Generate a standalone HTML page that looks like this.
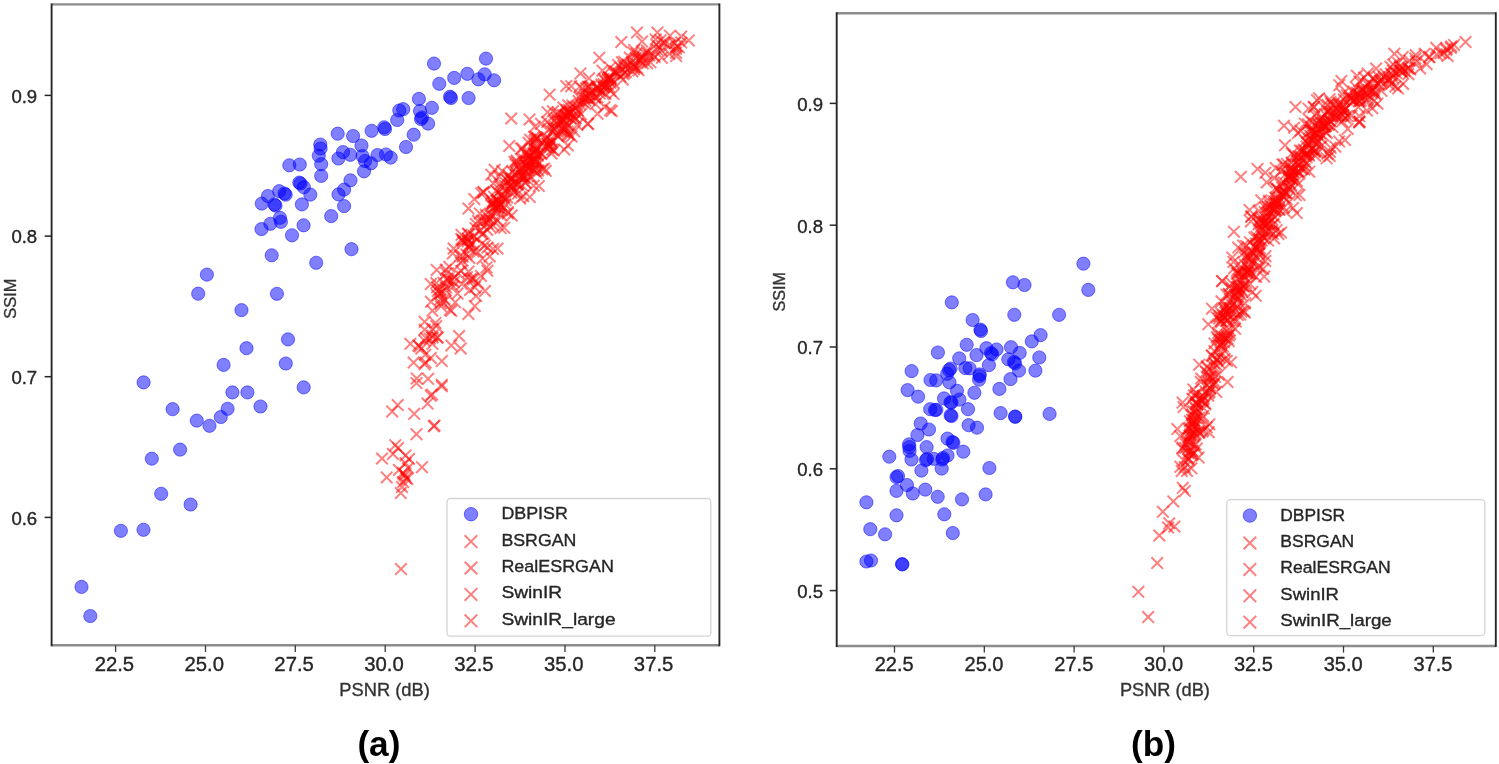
<!DOCTYPE html>
<html><head><meta charset="utf-8"><title>PSNR vs SSIM</title>
<style>html,body{margin:0;padding:0;background:#fff;}svg{display:block;}text{font-family:"Liberation Sans",sans-serif;}</style>
</head><body>
<svg width="1499" height="764" viewBox="0 0 1499 764">
<defs><filter id="bl" x="0" y="0" width="100%" height="100%" filterUnits="userSpaceOnUse"><feGaussianBlur stdDeviation="0.45"/></filter></defs>
<rect width="1499" height="764" fill="#fff"/>
<g filter="url(#bl)">
<defs><clipPath id="cl"><rect x="51.6" y="4.4" width="667.8" height="640.9"/></clipPath><clipPath id="cr"><rect x="836.7" y="13.3" width="659.1" height="632.7"/></clipPath></defs>
<g clip-path="url(#cl)">
<g fill="#0000ff" fill-opacity="0.5" stroke="#0000ff" stroke-opacity="0.5" stroke-width="1">
<circle cx="434.0" cy="63.6" r="6.6"/>
<circle cx="486.0" cy="58.6" r="6.6"/>
<circle cx="454.2" cy="77.9" r="6.6"/>
<circle cx="467.3" cy="73.8" r="6.6"/>
<circle cx="478.4" cy="79.3" r="6.6"/>
<circle cx="484.7" cy="74.3" r="6.6"/>
<circle cx="494.1" cy="80.3" r="6.6"/>
<circle cx="439.3" cy="83.8" r="6.6"/>
<circle cx="450.0" cy="96.7" r="6.6"/>
<circle cx="451.0" cy="98.0" r="6.6"/>
<circle cx="468.6" cy="98.0" r="6.6"/>
<circle cx="418.9" cy="98.9" r="6.6"/>
<circle cx="431.9" cy="107.8" r="6.6"/>
<circle cx="403.2" cy="109.2" r="6.6"/>
<circle cx="399.3" cy="110.5" r="6.6"/>
<circle cx="420.0" cy="111.0" r="6.6"/>
<circle cx="422.0" cy="117.5" r="6.6"/>
<circle cx="421.0" cy="119.0" r="6.6"/>
<circle cx="428.1" cy="123.6" r="6.6"/>
<circle cx="397.2" cy="120.0" r="6.6"/>
<circle cx="384.2" cy="127.3" r="6.6"/>
<circle cx="385.0" cy="129.0" r="6.6"/>
<circle cx="371.6" cy="130.8" r="6.6"/>
<circle cx="413.7" cy="134.7" r="6.6"/>
<circle cx="406.0" cy="147.0" r="6.6"/>
<circle cx="337.7" cy="133.7" r="6.6"/>
<circle cx="353.1" cy="136.0" r="6.6"/>
<circle cx="320.3" cy="144.5" r="6.6"/>
<circle cx="320.6" cy="148.5" r="6.6"/>
<circle cx="318.8" cy="155.7" r="6.6"/>
<circle cx="321.2" cy="164.2" r="6.6"/>
<circle cx="321.2" cy="175.9" r="6.6"/>
<circle cx="361.5" cy="145.5" r="6.6"/>
<circle cx="343.0" cy="152.1" r="6.6"/>
<circle cx="338.4" cy="158.5" r="6.6"/>
<circle cx="350.3" cy="154.8" r="6.6"/>
<circle cx="362.5" cy="156.0" r="6.6"/>
<circle cx="365.0" cy="161.0" r="6.6"/>
<circle cx="371.0" cy="163.3" r="6.6"/>
<circle cx="364.0" cy="171.3" r="6.6"/>
<circle cx="377.5" cy="155.0" r="6.6"/>
<circle cx="386.0" cy="154.5" r="6.6"/>
<circle cx="390.7" cy="157.6" r="6.6"/>
<circle cx="289.3" cy="165.3" r="6.6"/>
<circle cx="299.8" cy="164.5" r="6.6"/>
<circle cx="299.3" cy="182.6" r="6.6"/>
<circle cx="300.5" cy="183.5" r="6.6"/>
<circle cx="303.8" cy="187.2" r="6.6"/>
<circle cx="310.3" cy="194.6" r="6.6"/>
<circle cx="301.9" cy="204.4" r="6.6"/>
<circle cx="350.5" cy="180.3" r="6.6"/>
<circle cx="344.1" cy="189.6" r="6.6"/>
<circle cx="338.5" cy="194.4" r="6.6"/>
<circle cx="344.1" cy="206.1" r="6.6"/>
<circle cx="331.2" cy="216.1" r="6.6"/>
<circle cx="279.2" cy="191.2" r="6.6"/>
<circle cx="285.7" cy="194.7" r="6.6"/>
<circle cx="284.5" cy="193.5" r="6.6"/>
<circle cx="267.9" cy="196.0" r="6.6"/>
<circle cx="261.8" cy="203.6" r="6.6"/>
<circle cx="275.5" cy="205.6" r="6.6"/>
<circle cx="274.5" cy="204.5" r="6.6"/>
<circle cx="280.0" cy="217.8" r="6.6"/>
<circle cx="280.9" cy="221.8" r="6.6"/>
<circle cx="270.4" cy="223.8" r="6.6"/>
<circle cx="261.5" cy="229.1" r="6.6"/>
<circle cx="303.6" cy="225.3" r="6.6"/>
<circle cx="292.0" cy="235.3" r="6.6"/>
<circle cx="271.7" cy="255.3" r="6.6"/>
<circle cx="316.2" cy="262.8" r="6.6"/>
<circle cx="351.5" cy="249.2" r="6.6"/>
<circle cx="206.9" cy="274.6" r="6.6"/>
<circle cx="198.2" cy="293.7" r="6.6"/>
<circle cx="276.9" cy="293.8" r="6.6"/>
<circle cx="241.5" cy="310.1" r="6.6"/>
<circle cx="288.0" cy="339.4" r="6.6"/>
<circle cx="246.5" cy="348.2" r="6.6"/>
<circle cx="223.6" cy="364.9" r="6.6"/>
<circle cx="285.8" cy="363.5" r="6.6"/>
<circle cx="303.7" cy="387.4" r="6.6"/>
<circle cx="232.4" cy="392.4" r="6.6"/>
<circle cx="247.4" cy="392.4" r="6.6"/>
<circle cx="260.5" cy="406.5" r="6.6"/>
<circle cx="227.6" cy="408.8" r="6.6"/>
<circle cx="220.8" cy="417.0" r="6.6"/>
<circle cx="196.8" cy="420.6" r="6.6"/>
<circle cx="209.5" cy="425.8" r="6.6"/>
<circle cx="172.6" cy="409.2" r="6.6"/>
<circle cx="143.6" cy="382.4" r="6.6"/>
<circle cx="180.1" cy="449.6" r="6.6"/>
<circle cx="151.8" cy="458.7" r="6.6"/>
<circle cx="161.2" cy="493.8" r="6.6"/>
<circle cx="190.6" cy="504.5" r="6.6"/>
<circle cx="120.9" cy="530.8" r="6.6"/>
<circle cx="143.5" cy="529.8" r="6.6"/>
<circle cx="81.5" cy="586.9" r="6.6"/>
<circle cx="90.3" cy="616.0" r="6.6"/>
</g>
<g stroke="#ff0000" stroke-opacity="0.5" stroke-width="2" fill="none">
<path d="M395.2 563.3L406.8 574.9M395.2 574.9L406.8 563.3"/>
<path d="M376.2 452.7L387.8 464.3M376.2 464.3L387.8 452.7"/>
<path d="M380.9 471.6L392.5 483.2M380.9 483.2L392.5 471.6"/>
<path d="M398.2 468.4L409.8 480.0M398.2 480.0L409.8 468.4"/>
<path d="M397.2 467.2L408.8 478.8M397.2 478.8L408.8 467.2"/>
<path d="M399.2 469.7L410.8 481.3M399.2 481.3L410.8 469.7"/>
<path d="M401.3 473.2L412.9 484.8M401.3 484.8L412.9 473.2"/>
<path d="M395.0 487.3L406.6 498.9M395.0 498.9L406.6 487.3"/>
<path d="M397.4 476.2L409.0 487.8M397.4 487.8L409.0 476.2"/>
<path d="M399.7 449.6L411.3 461.2M399.7 461.2L411.3 449.6"/>
<path d="M399.7 457.4L411.3 469.0M399.7 469.0L411.3 457.4"/>
<path d="M416.2 461.4L427.8 473.0M416.2 473.0L427.8 461.4"/>
<path d="M389.5 439.4L401.1 451.0M389.5 451.0L401.1 439.4"/>
<path d="M392.2 442.2L403.8 453.8M392.2 453.8L403.8 442.2"/>
<path d="M393.2 464.2L404.8 475.8M393.2 475.8L404.8 464.2"/>
<path d="M402.2 462.2L413.8 473.8M402.2 473.8L413.8 462.2"/>
<path d="M396.2 481.2L407.8 492.8M396.2 492.8L407.8 481.2"/>
<path d="M403.2 453.2L414.8 464.8M403.2 464.8L414.8 453.2"/>
<path d="M387.2 448.2L398.8 459.8M387.2 459.8L398.8 448.2"/>
<path d="M400.2 472.2L411.8 483.8M400.2 483.8L411.8 472.2"/>
<path d="M410.7 377.3L422.3 388.9M410.7 388.9L422.3 377.3"/>
<path d="M435.9 380.5L447.5 392.1M435.9 392.1L447.5 380.5"/>
<path d="M424.9 389.9L436.5 401.5M424.9 401.5L436.5 389.9"/>
<path d="M426.2 388.7L437.8 400.3M426.2 400.3L437.8 388.7"/>
<path d="M421.7 397.8L433.3 409.4M421.7 409.4L433.3 397.8"/>
<path d="M391.9 399.3L403.5 410.9M391.9 410.9L403.5 399.3"/>
<path d="M386.4 405.6L398.0 417.2M386.4 417.2L398.0 405.6"/>
<path d="M408.4 408.0L420.0 419.6M408.4 419.6L420.0 408.0"/>
<path d="M428.0 420.5L439.6 432.1M428.0 432.1L439.6 420.5"/>
<path d="M428.7 419.7L440.3 431.3M428.7 431.3L440.3 419.7"/>
<path d="M410.7 428.4L422.3 440.0M410.7 440.0L422.3 428.4"/>
<path d="M410.9 372.6L422.5 384.2M410.9 384.2L422.5 372.6"/>
<path d="M436.0 378.9L447.6 390.5M436.0 390.5L447.6 378.9"/>
<path d="M404.6 338.0L416.2 349.6M404.6 349.6L416.2 338.0"/>
<path d="M412.5 339.6L424.1 351.2M412.5 351.2L424.1 339.6"/>
<path d="M413.7 340.7L425.3 352.3M413.7 352.3L425.3 340.7"/>
<path d="M415.6 342.7L427.2 354.3M415.6 354.3L427.2 342.7"/>
<path d="M431.3 331.7L442.9 343.3M431.3 343.3L442.9 331.7"/>
<path d="M453.3 330.2L464.9 341.8M453.3 341.8L464.9 330.2"/>
<path d="M454.9 342.7L466.5 354.3M454.9 354.3L466.5 342.7"/>
<path d="M426.6 338.0L438.2 349.6M426.6 349.6L438.2 338.0"/>
<path d="M425.0 352.2L436.6 363.8M425.0 363.8L436.6 352.2"/>
<path d="M436.0 355.3L447.6 366.9M436.0 366.9L447.6 355.3"/>
<path d="M418.8 358.4L430.4 370.0M418.8 370.0L430.4 358.4"/>
<path d="M445.5 339.6L457.1 351.2M445.5 351.2L457.1 339.6"/>
<path d="M418.8 323.9L430.4 335.5M418.8 335.5L430.4 323.9"/>
<path d="M418.8 316.0L430.4 327.6M418.8 327.6L430.4 316.0"/>
<path d="M425.0 278.3L436.6 289.9M425.0 289.9L436.6 278.3"/>
<path d="M431.3 281.5L442.9 293.1M431.3 293.1L442.9 281.5"/>
<path d="M442.3 273.6L453.9 285.2M442.3 285.2L453.9 273.6"/>
<path d="M440.7 267.3L452.3 278.9M440.7 278.9L452.3 267.3"/>
<path d="M451.7 287.8L463.3 299.4M451.7 299.4L463.3 287.8"/>
<path d="M467.4 273.6L479.0 285.2M467.4 285.2L479.0 273.6"/>
<path d="M469.0 281.5L480.6 293.1M469.0 293.1L480.6 281.5"/>
<path d="M462.7 265.8L474.3 277.4M462.7 277.4L474.3 265.8"/>
<path d="M481.6 265.0L493.2 276.6M481.6 276.6L493.2 265.0"/>
<path d="M472.2 277.2L483.8 288.8M472.2 288.8L483.8 277.2"/>
<path d="M464.2 284.2L475.8 295.8M464.2 295.8L475.8 284.2"/>
<path d="M475.2 270.2L486.8 281.8M475.2 281.8L486.8 270.2"/>
<path d="M479.2 285.2L490.8 296.8M479.2 296.8L490.8 285.2"/>
<path d="M470.2 290.2L481.8 301.8M470.2 301.8L481.8 290.2"/>
<path d="M431.3 289.3L442.9 300.9M431.3 300.9L442.9 289.3"/>
<path d="M426.6 305.0L438.2 316.6M426.6 316.6L438.2 305.0"/>
<path d="M445.5 305.0L457.1 316.6M445.5 316.6L457.1 305.0"/>
<path d="M469.0 300.3L480.6 311.9M469.0 311.9L480.6 300.3"/>
<path d="M462.7 308.2L474.3 319.8M462.7 319.8L474.3 308.2"/>
<path d="M462.7 202.7L474.3 214.3M462.7 214.3L474.3 202.7"/>
<path d="M469.7 222.3L481.3 233.9M469.7 233.9L481.3 222.3"/>
<path d="M483.9 220.7L495.5 232.3M483.9 232.3L495.5 220.7"/>
<path d="M455.6 233.3L467.2 244.9M455.6 244.9L467.2 233.3"/>
<path d="M456.7 234.2L468.3 245.8M456.7 245.8L468.3 234.2"/>
<path d="M447.8 242.7L459.4 254.3M447.8 254.3L459.4 242.7"/>
<path d="M465.0 238.0L476.6 249.6M465.0 249.6L476.6 238.0"/>
<path d="M476.0 238.0L487.6 249.6M476.0 249.6L487.6 238.0"/>
<path d="M491.7 242.7L503.3 254.3M491.7 254.3L503.3 242.7"/>
<path d="M483.9 250.6L495.5 262.2M483.9 262.2L495.5 250.6"/>
<path d="M463.5 252.2L475.1 263.8M463.5 263.8L475.1 252.2"/>
<path d="M480.7 261.6L492.3 273.2M480.7 273.2L492.3 261.6"/>
<path d="M466.6 272.6L478.2 284.2M466.6 284.2L478.2 272.6"/>
<path d="M441.5 272.6L453.1 284.2M441.5 284.2L453.1 272.6"/>
<path d="M430.5 277.3L442.1 288.9M430.5 288.9L442.1 277.3"/>
<path d="M487.0 195.6L498.6 207.2M487.0 207.2L498.6 195.6"/>
<path d="M499.6 198.8L511.2 210.4M499.6 210.4L511.2 198.8"/>
<path d="M505.9 209.7L517.5 221.3M505.9 221.3L517.5 209.7"/>
<path d="M477.6 186.2L489.2 197.8M477.6 197.8L489.2 186.2"/>
<path d="M485.5 168.9L497.1 180.5M485.5 180.5L497.1 168.9"/>
<path d="M493.3 170.5L504.9 182.1M493.3 182.1L504.9 170.5"/>
<path d="M507.4 176.8L519.0 188.4M507.4 188.4L519.0 176.8"/>
<path d="M518.4 172.1L530.0 183.7M518.4 183.7L530.0 172.1"/>
<path d="M531.0 167.3L542.6 178.9M531.0 178.9L542.6 167.3"/>
<path d="M527.9 179.9L539.5 191.5M527.9 191.5L539.5 179.9"/>
<path d="M512.2 187.8L523.8 199.4M512.2 199.4L523.8 187.8"/>
<path d="M503.5 140.2L515.1 151.8M503.5 151.8L515.1 140.2"/>
<path d="M510.9 154.8L522.5 166.4M510.9 166.4L522.5 154.8"/>
<path d="M488.9 164.0L500.5 175.6M488.9 175.6L500.5 164.0"/>
<path d="M536.3 163.5L547.9 175.1M536.3 175.1L547.9 163.5"/>
<path d="M514.4 192.8L526.0 204.4M514.4 204.4L526.0 192.8"/>
<path d="M510.7 156.2L522.3 167.8M510.7 167.8L522.3 156.2"/>
<path d="M562.0 139.7L573.6 151.3M562.0 151.3L573.6 139.7"/>
<path d="M505.4 112.7L517.0 124.3M505.4 124.3L517.0 112.7"/>
<path d="M523.7 113.6L535.3 125.2M523.7 125.2L535.3 113.6"/>
<path d="M543.8 88.9L555.4 100.5M543.8 100.5L555.4 88.9"/>
<path d="M582.3 118.2L593.9 129.8M582.3 129.8L593.9 118.2"/>
<path d="M604.3 104.4L615.9 116.0M604.3 116.0L615.9 104.4"/>
<path d="M560.5 80.2L572.1 91.8M560.5 91.8L572.1 80.2"/>
<path d="M574.6 67.6L586.2 79.2M574.6 79.2L586.2 67.6"/>
<path d="M581.7 117.9L593.3 129.5M581.7 129.5L593.3 117.9"/>
<path d="M563.6 128.9L575.2 140.5M563.6 140.5L575.2 128.9"/>
<path d="M599.7 88.0L611.3 99.6M599.7 99.6L611.3 88.0"/>
<path d="M606.0 105.3L617.6 116.9M606.0 116.9L617.6 105.3"/>
<path d="M617.0 73.9L628.6 85.5M617.0 85.5L628.6 73.9"/>
<path d="M593.5 51.9L605.1 63.5M593.5 63.5L605.1 51.9"/>
<path d="M615.5 36.2L627.1 47.8M615.5 47.8L627.1 36.2"/>
<path d="M631.2 26.8L642.8 38.4M631.2 38.4L642.8 26.8"/>
<path d="M651.6 26.8L663.2 38.4M651.6 38.4L663.2 26.8"/>
<path d="M664.2 29.9L675.8 41.5M664.2 41.5L675.8 29.9"/>
<path d="M683.0 34.6L694.6 46.2M683.0 46.2L694.6 34.6"/>
<path d="M670.4 50.3L682.0 61.9M670.4 61.9L682.0 50.3"/>
<path d="M632.7 64.5L644.3 76.1M632.7 76.1L644.3 64.5"/>
<path d="M422.3 373.0L433.9 384.6M422.3 384.6L433.9 373.0"/>
<path d="M407.8 356.8L419.4 368.4M407.8 368.4L419.4 356.8"/>
<path d="M419.7 356.7L431.3 368.3M419.7 368.3L431.3 356.7"/>
<path d="M419.4 349.0L431.0 360.6M419.4 360.6L431.0 349.0"/>
<path d="M444.1 304.1L455.7 315.7M444.1 315.7L455.7 304.1"/>
<path d="M426.7 329.9L438.3 341.5M426.7 341.5L438.3 329.9"/>
<path d="M439.4 295.0L451.0 306.6M439.4 306.6L451.0 295.0"/>
<path d="M438.4 293.1L450.0 304.7M438.4 304.7L450.0 293.1"/>
<path d="M423.9 332.9L435.5 344.5M423.9 344.5L435.5 332.9"/>
<path d="M430.5 320.4L442.1 332.0M430.5 332.0L442.1 320.4"/>
<path d="M426.8 331.7L438.4 343.3M426.8 343.3L438.4 331.7"/>
<path d="M431.9 331.7L443.5 343.3M431.9 343.3L443.5 331.7"/>
<path d="M425.2 296.0L436.8 307.6M425.2 307.6L436.8 296.0"/>
<path d="M435.4 287.0L447.0 298.6M435.4 298.6L447.0 287.0"/>
<path d="M418.6 334.9L430.2 346.5M418.6 346.5L430.2 334.9"/>
<path d="M449.4 296.5L461.0 308.1M449.4 308.1L461.0 296.5"/>
<path d="M434.9 297.7L446.5 309.3M434.9 309.3L446.5 297.7"/>
<path d="M434.8 293.5L446.4 305.1M434.8 305.1L446.4 293.5"/>
<path d="M429.7 317.1L441.3 328.7M429.7 328.7L441.3 317.1"/>
<path d="M435.1 300.5L446.7 312.1M435.1 312.1L446.7 300.5"/>
<path d="M420.2 332.4L431.8 344.0M420.2 344.0L431.8 332.4"/>
<path d="M426.8 323.3L438.4 334.9M426.8 334.9L438.4 323.3"/>
<path d="M452.5 267.6L464.1 279.2M452.5 279.2L464.1 267.6"/>
<path d="M439.9 263.9L451.5 275.5M439.9 275.5L451.5 263.9"/>
<path d="M434.0 283.6L445.6 295.2M434.0 295.2L445.6 283.6"/>
<path d="M430.9 264.1L442.5 275.7M430.9 275.7L442.5 264.1"/>
<path d="M464.7 273.5L476.3 285.1M464.7 285.1L476.3 273.5"/>
<path d="M456.9 250.6L468.5 262.2M456.9 262.2L468.5 250.6"/>
<path d="M461.1 271.4L472.7 283.0M461.1 283.0L472.7 271.4"/>
<path d="M442.4 275.3L454.0 286.9M442.4 286.9L454.0 275.3"/>
<path d="M476.7 252.6L488.3 264.2M476.7 264.2L488.3 252.6"/>
<path d="M460.6 248.7L472.2 260.3M460.6 260.3L472.2 248.7"/>
<path d="M447.0 247.6L458.6 259.2M447.0 259.2L458.6 247.6"/>
<path d="M440.0 284.8L451.6 296.4M440.0 296.4L451.6 284.8"/>
<path d="M455.3 265.1L466.9 276.7M455.3 276.7L466.9 265.1"/>
<path d="M456.1 278.3L467.7 289.9M456.1 289.9L467.7 278.3"/>
<path d="M443.5 261.0L455.1 272.6M443.5 272.6L455.1 261.0"/>
<path d="M431.9 285.1L443.5 296.7M431.9 296.7L443.5 285.1"/>
<path d="M437.7 277.0L449.3 288.6M437.7 288.6L449.3 277.0"/>
<path d="M454.2 250.2L465.8 261.8M454.2 261.8L465.8 250.2"/>
<path d="M447.3 280.7L458.9 292.3M447.3 292.3L458.9 280.7"/>
<path d="M434.3 287.9L445.9 299.5M434.3 299.5L445.9 287.9"/>
<path d="M456.8 254.8L468.4 266.4M456.8 266.4L468.4 254.8"/>
<path d="M448.1 276.1L459.7 287.7M448.1 287.7L459.7 276.1"/>
<path d="M440.3 281.7L451.9 293.3M440.3 293.3L451.9 281.7"/>
<path d="M455.1 257.1L466.7 268.7M455.1 268.7L466.7 257.1"/>
<path d="M445.6 274.7L457.2 286.3M445.6 286.3L457.2 274.7"/>
<path d="M448.4 271.4L460.0 283.0M448.4 283.0L460.0 271.4"/>
<path d="M471.9 246.4L483.5 258.0M471.9 258.0L483.5 246.4"/>
<path d="M470.1 218.1L481.7 229.7M470.1 229.7L481.7 218.1"/>
<path d="M467.7 245.6L479.3 257.2M467.7 257.2L479.3 245.6"/>
<path d="M466.7 238.2L478.3 249.8M466.7 249.8L478.3 238.2"/>
<path d="M472.2 215.2L483.8 226.8M472.2 226.8L483.8 215.2"/>
<path d="M478.1 215.1L489.7 226.7M478.1 226.7L489.7 215.1"/>
<path d="M462.3 233.0L473.9 244.6M462.3 244.6L473.9 233.0"/>
<path d="M462.8 228.3L474.4 239.9M462.8 239.9L474.4 228.3"/>
<path d="M457.8 236.8L469.4 248.4M457.8 248.4L469.4 236.8"/>
<path d="M487.2 243.2L498.8 254.8M487.2 254.8L498.8 243.2"/>
<path d="M481.7 241.7L493.3 253.3M481.7 253.3L493.3 241.7"/>
<path d="M461.6 233.8L473.2 245.4M461.6 245.4L473.2 233.8"/>
<path d="M498.4 221.9L510.0 233.5M498.4 233.5L510.0 221.9"/>
<path d="M477.8 227.7L489.4 239.3M477.8 239.3L489.4 227.7"/>
<path d="M494.9 222.3L506.5 233.9M494.9 233.9L506.5 222.3"/>
<path d="M468.0 230.1L479.6 241.7M468.0 241.7L479.6 230.1"/>
<path d="M462.0 235.5L473.6 247.1M462.0 247.1L473.6 235.5"/>
<path d="M457.1 235.1L468.7 246.7M457.1 246.7L468.7 235.1"/>
<path d="M462.1 227.9L473.7 239.5M462.1 239.5L473.7 227.9"/>
<path d="M481.0 214.3L492.6 225.9M481.0 225.9L492.6 214.3"/>
<path d="M455.7 229.0L467.3 240.6M455.7 240.6L467.3 229.0"/>
<path d="M479.1 239.6L490.7 251.2M479.1 251.2L490.7 239.6"/>
<path d="M481.5 224.2L493.1 235.8M481.5 235.8L493.1 224.2"/>
<path d="M474.0 207.6L485.6 219.2M474.0 219.2L485.6 207.6"/>
<path d="M476.2 228.3L487.8 239.9M476.2 239.9L487.8 228.3"/>
<path d="M463.1 242.2L474.7 253.8M463.1 253.8L474.7 242.2"/>
<path d="M484.0 213.0L495.6 224.6M484.0 224.6L495.6 213.0"/>
<path d="M487.1 219.4L498.7 231.0M487.1 231.0L498.7 219.4"/>
<path d="M467.9 230.7L479.5 242.3M467.9 242.3L479.5 230.7"/>
<path d="M491.9 214.5L503.5 226.1M491.9 226.1L503.5 214.5"/>
<path d="M462.5 240.0L474.1 251.6M462.5 251.6L474.1 240.0"/>
<path d="M464.0 240.0L475.6 251.6M464.0 251.6L475.6 240.0"/>
<path d="M481.5 217.3L493.1 228.9M481.5 228.9L493.1 217.3"/>
<path d="M475.9 215.2L487.5 226.8M475.9 226.8L487.5 215.2"/>
<path d="M474.5 225.2L486.1 236.8M474.5 236.8L486.1 225.2"/>
<path d="M483.6 213.8L495.2 225.4M483.6 225.4L495.2 213.8"/>
<path d="M480.0 208.9L491.6 220.5M480.0 220.5L491.6 208.9"/>
<path d="M505.6 183.1L517.2 194.7M505.6 194.7L517.2 183.1"/>
<path d="M505.4 187.0L517.0 198.6M505.4 198.6L517.0 187.0"/>
<path d="M486.9 210.3L498.5 221.9M486.9 221.9L498.5 210.3"/>
<path d="M504.4 173.0L516.0 184.6M504.4 184.6L516.0 173.0"/>
<path d="M492.8 201.4L504.4 213.0M492.8 213.0L504.4 201.4"/>
<path d="M495.0 209.1L506.6 220.7M495.0 220.7L506.6 209.1"/>
<path d="M502.0 174.9L513.6 186.5M502.0 186.5L513.6 174.9"/>
<path d="M487.0 197.0L498.6 208.6M487.0 208.6L498.6 197.0"/>
<path d="M484.6 209.8L496.2 221.4M484.6 221.4L496.2 209.8"/>
<path d="M505.4 172.6L517.0 184.2M505.4 184.2L517.0 172.6"/>
<path d="M502.1 207.6L513.7 219.2M502.1 219.2L513.7 207.6"/>
<path d="M524.0 191.3L535.6 202.9M524.0 202.9L535.6 191.3"/>
<path d="M485.6 198.2L497.2 209.8M485.6 209.8L497.2 198.2"/>
<path d="M496.4 165.3L508.0 176.9M496.4 176.9L508.0 165.3"/>
<path d="M487.3 197.5L498.9 209.1M487.3 209.1L498.9 197.5"/>
<path d="M491.5 199.2L503.1 210.8M491.5 210.8L503.1 199.2"/>
<path d="M512.2 177.5L523.8 189.1M512.2 189.1L523.8 177.5"/>
<path d="M487.6 177.7L499.2 189.3M487.6 189.3L499.2 177.7"/>
<path d="M475.4 187.6L487.0 199.2M475.4 199.2L487.0 187.6"/>
<path d="M502.1 206.2L513.7 217.8M502.1 217.8L513.7 206.2"/>
<path d="M477.8 186.7L489.4 198.3M477.8 198.3L489.4 186.7"/>
<path d="M492.3 186.7L503.9 198.3M492.3 198.3L503.9 186.7"/>
<path d="M485.6 199.5L497.2 211.1M485.6 211.1L497.2 199.5"/>
<path d="M501.4 191.7L513.0 203.3M501.4 203.3L513.0 191.7"/>
<path d="M493.6 199.1L505.2 210.7M493.6 210.7L505.2 199.1"/>
<path d="M499.8 194.2L511.4 205.8M499.8 205.8L511.4 194.2"/>
<path d="M499.3 180.1L510.9 191.7M499.3 191.7L510.9 180.1"/>
<path d="M516.0 179.3L527.6 190.9M516.0 190.9L527.6 179.3"/>
<path d="M517.5 190.4L529.1 202.0M517.5 202.0L529.1 190.4"/>
<path d="M468.5 193.3L480.1 204.9M468.5 204.9L480.1 193.3"/>
<path d="M504.9 178.5L516.5 190.1M504.9 190.1L516.5 178.5"/>
<path d="M511.3 178.4L522.9 190.0M511.3 190.0L522.9 178.4"/>
<path d="M505.9 180.2L517.5 191.8M505.9 191.8L517.5 180.2"/>
<path d="M504.3 180.7L515.9 192.3M504.3 192.3L515.9 180.7"/>
<path d="M488.2 190.9L499.8 202.5M488.2 202.5L499.8 190.9"/>
<path d="M499.6 184.5L511.2 196.1M499.6 196.1L511.2 184.5"/>
<path d="M506.4 172.6L518.0 184.2M506.4 184.2L518.0 172.6"/>
<path d="M490.4 184.8L502.0 196.4M490.4 196.4L502.0 184.8"/>
<path d="M491.7 194.5L503.3 206.1M491.7 206.1L503.3 194.5"/>
<path d="M496.1 204.5L507.7 216.1M496.1 216.1L507.7 204.5"/>
<path d="M498.3 191.3L509.9 202.9M498.3 202.9L509.9 191.3"/>
<path d="M493.8 198.5L505.4 210.1M493.8 210.1L505.4 198.5"/>
<path d="M506.2 181.6L517.8 193.2M506.2 193.2L517.8 181.6"/>
<path d="M490.9 195.2L502.5 206.8M490.9 206.8L502.5 195.2"/>
<path d="M495.6 189.4L507.2 201.0M495.6 201.0L507.2 189.4"/>
<path d="M495.4 181.8L507.0 193.4M495.4 193.4L507.0 181.8"/>
<path d="M492.4 202.5L504.0 214.1M492.4 214.1L504.0 202.5"/>
<path d="M496.9 192.7L508.5 204.3M496.9 204.3L508.5 192.7"/>
<path d="M511.9 179.0L523.5 190.6M511.9 190.6L523.5 179.0"/>
<path d="M489.3 200.4L500.9 212.0M489.3 212.0L500.9 200.4"/>
<path d="M496.9 189.4L508.5 201.0M496.9 201.0L508.5 189.4"/>
<path d="M488.6 204.8L500.2 216.4M488.6 216.4L500.2 204.8"/>
<path d="M494.2 178.0L505.8 189.6M494.2 189.6L505.8 178.0"/>
<path d="M491.8 194.5L503.4 206.1M491.8 206.1L503.4 194.5"/>
<path d="M500.4 173.6L512.0 185.2M500.4 185.2L512.0 173.6"/>
<path d="M505.4 174.8L517.0 186.4M505.4 186.4L517.0 174.8"/>
<path d="M488.7 200.6L500.3 212.2M488.7 212.2L500.3 200.6"/>
<path d="M509.3 186.0L520.9 197.6M509.3 197.6L520.9 186.0"/>
<path d="M494.9 198.3L506.5 209.9M494.9 209.9L506.5 198.3"/>
<path d="M489.3 201.8L500.9 213.4M489.3 213.4L500.9 201.8"/>
<path d="M531.5 143.6L543.1 155.2M531.5 155.2L543.1 143.6"/>
<path d="M533.0 180.2L544.6 191.8M533.0 191.8L544.6 180.2"/>
<path d="M522.8 137.0L534.4 148.6M522.8 148.6L534.4 137.0"/>
<path d="M527.4 147.5L539.0 159.1M527.4 159.1L539.0 147.5"/>
<path d="M529.7 133.5L541.3 145.1M529.7 145.1L541.3 133.5"/>
<path d="M528.4 142.9L540.0 154.5M528.4 154.5L540.0 142.9"/>
<path d="M516.0 170.2L527.6 181.8M516.0 181.8L527.6 170.2"/>
<path d="M545.7 147.7L557.3 159.3M545.7 159.3L557.3 147.7"/>
<path d="M519.6 177.0L531.2 188.6M519.6 188.6L531.2 177.0"/>
<path d="M515.8 166.5L527.4 178.1M515.8 178.1L527.4 166.5"/>
<path d="M520.4 159.7L532.0 171.3M520.4 171.3L532.0 159.7"/>
<path d="M515.3 142.8L526.9 154.4M515.3 154.4L526.9 142.8"/>
<path d="M508.5 156.1L520.1 167.7M508.5 167.7L520.1 156.1"/>
<path d="M512.6 159.6L524.2 171.2M512.6 171.2L524.2 159.6"/>
<path d="M530.6 142.9L542.2 154.5M530.6 154.5L542.2 142.9"/>
<path d="M530.4 131.4L542.0 143.0M530.4 143.0L542.0 131.4"/>
<path d="M529.8 144.8L541.4 156.4M529.8 156.4L541.4 144.8"/>
<path d="M520.7 159.2L532.3 170.8M520.7 170.8L532.3 159.2"/>
<path d="M517.1 172.5L528.7 184.1M517.1 184.1L528.7 172.5"/>
<path d="M540.0 165.0L551.6 176.6M540.0 176.6L551.6 165.0"/>
<path d="M510.3 166.9L521.9 178.5M510.3 178.5L521.9 166.9"/>
<path d="M522.4 151.5L534.0 163.1M522.4 163.1L534.0 151.5"/>
<path d="M532.5 164.8L544.1 176.4M532.5 176.4L544.1 164.8"/>
<path d="M515.7 153.5L527.3 165.1M515.7 165.1L527.3 153.5"/>
<path d="M535.3 148.1L546.9 159.7M535.3 159.7L546.9 148.1"/>
<path d="M518.5 153.9L530.1 165.5M518.5 165.5L530.1 153.9"/>
<path d="M502.5 169.4L514.1 181.0M502.5 181.0L514.1 169.4"/>
<path d="M538.3 162.7L549.9 174.3M538.3 174.3L549.9 162.7"/>
<path d="M528.5 131.0L540.1 142.6M528.5 142.6L540.1 131.0"/>
<path d="M524.4 134.0L536.0 145.6M524.4 145.6L536.0 134.0"/>
<path d="M524.7 170.7L536.3 182.3M524.7 182.3L536.3 170.7"/>
<path d="M519.1 147.6L530.7 159.2M519.1 159.2L530.7 147.6"/>
<path d="M519.2 159.6L530.8 171.2M519.2 171.2L530.8 159.6"/>
<path d="M528.8 165.2L540.4 176.8M528.8 176.8L540.4 165.2"/>
<path d="M528.7 135.0L540.3 146.6M528.7 146.6L540.3 135.0"/>
<path d="M524.1 156.2L535.7 167.8M524.1 167.8L535.7 156.2"/>
<path d="M516.4 142.6L528.0 154.2M516.4 154.2L528.0 142.6"/>
<path d="M523.0 146.4L534.6 158.0M523.0 158.0L534.6 146.4"/>
<path d="M528.8 138.2L540.4 149.8M528.8 149.8L540.4 138.2"/>
<path d="M530.4 144.1L542.0 155.7M530.4 155.7L542.0 144.1"/>
<path d="M529.3 146.5L540.9 158.1M529.3 158.1L540.9 146.5"/>
<path d="M529.5 158.6L541.1 170.2M529.5 170.2L541.1 158.6"/>
<path d="M527.7 164.1L539.3 175.7M527.7 175.7L539.3 164.1"/>
<path d="M524.0 156.7L535.6 168.3M524.0 168.3L535.6 156.7"/>
<path d="M523.8 149.4L535.4 161.0M523.8 161.0L535.4 149.4"/>
<path d="M529.5 161.3L541.1 172.9M529.5 172.9L541.1 161.3"/>
<path d="M528.3 148.2L539.9 159.8M528.3 159.8L539.9 148.2"/>
<path d="M516.9 169.3L528.5 180.9M516.9 180.9L528.5 169.3"/>
<path d="M519.7 176.9L531.3 188.5M519.7 188.5L531.3 176.9"/>
<path d="M522.5 152.6L534.1 164.2M522.5 164.2L534.1 152.6"/>
<path d="M517.9 170.6L529.5 182.2M517.9 182.2L529.5 170.6"/>
<path d="M532.0 149.9L543.6 161.5M532.0 161.5L543.6 149.9"/>
<path d="M513.6 163.6L525.2 175.2M513.6 175.2L525.2 163.6"/>
<path d="M515.8 170.2L527.4 181.8M515.8 181.8L527.4 170.2"/>
<path d="M509.9 158.9L521.5 170.5M509.9 170.5L521.5 158.9"/>
<path d="M531.9 148.7L543.5 160.3M531.9 160.3L543.5 148.7"/>
<path d="M526.6 152.3L538.2 163.9M526.6 163.9L538.2 152.3"/>
<path d="M521.8 160.4L533.4 172.0M521.8 172.0L533.4 160.4"/>
<path d="M520.7 147.8L532.3 159.4M520.7 159.4L532.3 147.8"/>
<path d="M531.4 132.9L543.0 144.5M531.4 144.5L543.0 132.9"/>
<path d="M529.6 156.1L541.2 167.7M529.6 167.7L541.2 156.1"/>
<path d="M526.8 156.2L538.4 167.8M526.8 167.8L538.4 156.2"/>
<path d="M522.2 162.1L533.8 173.7M522.2 173.7L533.8 162.1"/>
<path d="M514.7 165.4L526.3 177.0M514.7 177.0L526.3 165.4"/>
<path d="M506.4 165.9L518.0 177.5M506.4 177.5L518.0 165.9"/>
<path d="M524.7 160.0L536.3 171.6M524.7 171.6L536.3 160.0"/>
<path d="M529.5 153.3L541.1 164.9M529.5 164.9L541.1 153.3"/>
<path d="M522.1 170.5L533.7 182.1M522.1 182.1L533.7 170.5"/>
<path d="M539.7 141.2L551.3 152.8M539.7 152.8L551.3 141.2"/>
<path d="M520.9 162.5L532.5 174.1M520.9 174.1L532.5 162.5"/>
<path d="M510.2 169.8L521.8 181.4M510.2 181.4L521.8 169.8"/>
<path d="M521.7 156.3L533.3 167.9M521.7 167.9L533.3 156.3"/>
<path d="M535.3 146.9L546.9 158.5M535.3 158.5L546.9 146.9"/>
<path d="M527.5 155.6L539.1 167.2M527.5 167.2L539.1 155.6"/>
<path d="M533.7 157.0L545.3 168.6M533.7 168.6L545.3 157.0"/>
<path d="M546.3 143.7L557.9 155.3M546.3 155.3L557.9 143.7"/>
<path d="M520.4 165.0L532.0 176.6M520.4 176.6L532.0 165.0"/>
<path d="M530.8 155.5L542.4 167.1M530.8 167.1L542.4 155.5"/>
<path d="M557.3 109.2L568.9 120.8M557.3 120.8L568.9 109.2"/>
<path d="M571.2 108.3L582.8 119.9M571.2 119.9L582.8 108.3"/>
<path d="M541.0 137.8L552.6 149.4M541.0 149.4L552.6 137.8"/>
<path d="M529.0 120.9L540.6 132.5M529.0 132.5L540.6 120.9"/>
<path d="M542.8 142.2L554.4 153.8M542.8 153.8L554.4 142.2"/>
<path d="M569.3 114.0L580.9 125.6M569.3 125.6L580.9 114.0"/>
<path d="M542.5 138.7L554.1 150.3M542.5 150.3L554.1 138.7"/>
<path d="M558.8 114.2L570.4 125.8M558.8 125.8L570.4 114.2"/>
<path d="M547.1 105.5L558.7 117.1M547.1 117.1L558.7 105.5"/>
<path d="M568.4 125.5L580.0 137.1M568.4 137.1L580.0 125.5"/>
<path d="M539.9 133.8L551.5 145.4M539.9 145.4L551.5 133.8"/>
<path d="M550.9 112.1L562.5 123.7M550.9 123.7L562.5 112.1"/>
<path d="M562.4 128.2L574.0 139.8M562.4 139.8L574.0 128.2"/>
<path d="M546.2 121.3L557.8 132.9M546.2 132.9L557.8 121.3"/>
<path d="M555.1 125.2L566.7 136.8M555.1 136.8L566.7 125.2"/>
<path d="M560.7 111.6L572.3 123.2M560.7 123.2L572.3 111.6"/>
<path d="M535.2 118.0L546.8 129.6M535.2 129.6L546.8 118.0"/>
<path d="M558.5 143.8L570.1 155.4M558.5 155.4L570.1 143.8"/>
<path d="M531.9 132.2L543.5 143.8M531.9 143.8L543.5 132.2"/>
<path d="M557.6 101.8L569.2 113.4M557.6 113.4L569.2 101.8"/>
<path d="M542.0 138.8L553.6 150.4M542.0 150.4L553.6 138.8"/>
<path d="M558.5 126.6L570.1 138.2M558.5 138.2L570.1 126.6"/>
<path d="M569.9 112.5L581.5 124.1M569.9 124.1L581.5 112.5"/>
<path d="M565.7 130.7L577.3 142.3M565.7 142.3L577.3 130.7"/>
<path d="M547.8 144.7L559.4 156.3M547.8 156.3L559.4 144.7"/>
<path d="M560.4 109.9L572.0 121.5M560.4 121.5L572.0 109.9"/>
<path d="M568.0 111.2L579.6 122.8M568.0 122.8L579.6 111.2"/>
<path d="M543.1 123.5L554.7 135.1M543.1 135.1L554.7 123.5"/>
<path d="M551.4 129.7L563.0 141.3M551.4 141.3L563.0 129.7"/>
<path d="M571.4 119.3L583.0 130.9M571.4 130.9L583.0 119.3"/>
<path d="M555.9 113.0L567.5 124.6M555.9 124.6L567.5 113.0"/>
<path d="M566.6 99.8L578.2 111.4M566.6 111.4L578.2 99.8"/>
<path d="M541.7 106.4L553.3 118.0M541.7 118.0L553.3 106.4"/>
<path d="M562.7 107.9L574.3 119.5M562.7 119.5L574.3 107.9"/>
<path d="M558.2 124.8L569.8 136.4M558.2 136.4L569.8 124.8"/>
<path d="M548.2 123.7L559.8 135.3M548.2 135.3L559.8 123.7"/>
<path d="M557.8 115.3L569.4 126.9M557.8 126.9L569.4 115.3"/>
<path d="M546.8 125.8L558.4 137.4M546.8 137.4L558.4 125.8"/>
<path d="M556.8 122.6L568.4 134.2M556.8 134.2L568.4 122.6"/>
<path d="M546.1 136.5L557.7 148.1M546.1 148.1L557.7 136.5"/>
<path d="M540.8 133.8L552.4 145.4M540.8 145.4L552.4 133.8"/>
<path d="M561.8 125.7L573.4 137.3M561.8 137.3L573.4 125.7"/>
<path d="M560.6 104.3L572.2 115.9M560.6 115.9L572.2 104.3"/>
<path d="M567.5 105.5L579.1 117.1M567.5 117.1L579.1 105.5"/>
<path d="M555.9 114.9L567.5 126.5M555.9 126.5L567.5 114.9"/>
<path d="M560.7 109.3L572.3 120.9M560.7 120.9L572.3 109.3"/>
<path d="M562.4 99.5L574.0 111.1M562.4 111.1L574.0 99.5"/>
<path d="M541.5 116.2L553.1 127.8M541.5 127.8L553.1 116.2"/>
<path d="M545.6 135.9L557.2 147.5M545.6 147.5L557.2 135.9"/>
<path d="M551.9 109.0L563.5 120.6M551.9 120.6L563.5 109.0"/>
<path d="M549.1 120.8L560.7 132.4M549.1 132.4L560.7 120.8"/>
<path d="M543.9 141.2L555.5 152.8M543.9 152.8L555.5 141.2"/>
<path d="M544.5 138.2L556.1 149.8M544.5 149.8L556.1 138.2"/>
<path d="M555.7 116.0L567.3 127.6M555.7 127.6L567.3 116.0"/>
<path d="M564.8 107.1L576.4 118.7M564.8 118.7L576.4 107.1"/>
<path d="M544.6 133.6L556.2 145.2M544.6 145.2L556.2 133.6"/>
<path d="M564.6 106.7L576.2 118.3M564.6 118.3L576.2 106.7"/>
<path d="M552.5 130.7L564.1 142.3M552.5 142.3L564.1 130.7"/>
<path d="M562.9 104.0L574.5 115.6M562.9 115.6L574.5 104.0"/>
<path d="M552.1 106.7L563.7 118.3M552.1 118.3L563.7 106.7"/>
<path d="M559.4 109.5L571.0 121.1M559.4 121.1L571.0 109.5"/>
<path d="M569.7 101.4L581.3 113.0M569.7 113.0L581.3 101.4"/>
<path d="M564.7 112.6L576.3 124.2M564.7 124.2L576.3 112.6"/>
<path d="M548.4 115.3L560.0 126.9M548.4 126.9L560.0 115.3"/>
<path d="M559.8 122.4L571.4 134.0M559.8 134.0L571.4 122.4"/>
<path d="M562.1 106.6L573.7 118.2M562.1 118.2L573.7 106.6"/>
<path d="M559.3 115.6L570.9 127.2M559.3 127.2L570.9 115.6"/>
<path d="M540.9 131.9L552.5 143.5M540.9 143.5L552.5 131.9"/>
<path d="M575.2 108.6L586.8 120.2M575.2 120.2L586.8 108.6"/>
<path d="M552.3 114.6L563.9 126.2M552.3 126.2L563.9 114.6"/>
<path d="M563.6 106.4L575.2 118.0M563.6 118.0L575.2 106.4"/>
<path d="M548.8 123.0L560.4 134.6M548.8 134.6L560.4 123.0"/>
<path d="M552.4 118.4L564.0 130.0M552.4 130.0L564.0 118.4"/>
<path d="M558.2 120.1L569.8 131.7M558.2 131.7L569.8 120.1"/>
<path d="M602.3 73.2L613.9 84.8M602.3 84.8L613.9 73.2"/>
<path d="M585.3 80.6L596.9 92.2M585.3 92.2L596.9 80.6"/>
<path d="M603.3 81.4L614.9 93.0M603.3 93.0L614.9 81.4"/>
<path d="M607.8 88.3L619.4 99.9M607.8 99.9L619.4 88.3"/>
<path d="M580.4 82.5L592.0 94.1M580.4 94.1L592.0 82.5"/>
<path d="M581.0 92.2L592.6 103.8M581.0 103.8L592.6 92.2"/>
<path d="M576.5 82.6L588.1 94.2M576.5 94.2L588.1 82.6"/>
<path d="M578.9 92.0L590.5 103.6M578.9 103.6L590.5 92.0"/>
<path d="M579.5 94.7L591.1 106.3M579.5 106.3L591.1 94.7"/>
<path d="M583.3 80.9L594.9 92.5M583.3 92.5L594.9 80.9"/>
<path d="M598.8 101.3L610.4 112.9M598.8 112.9L610.4 101.3"/>
<path d="M583.2 72.5L594.8 84.1M583.2 84.1L594.8 72.5"/>
<path d="M596.7 86.8L608.3 98.4M596.7 98.4L608.3 86.8"/>
<path d="M599.6 75.4L611.2 87.0M599.6 87.0L611.2 75.4"/>
<path d="M598.0 73.2L609.6 84.8M598.0 84.8L609.6 73.2"/>
<path d="M571.3 100.1L582.9 111.7M571.3 111.7L582.9 100.1"/>
<path d="M589.7 98.3L601.3 109.9M589.7 109.9L601.3 98.3"/>
<path d="M604.6 85.0L616.2 96.6M604.6 96.6L616.2 85.0"/>
<path d="M591.6 91.6L603.2 103.2M591.6 103.2L603.2 91.6"/>
<path d="M591.7 108.0L603.3 119.6M591.7 119.6L603.3 108.0"/>
<path d="M582.2 81.0L593.8 92.6M582.2 92.6L593.8 81.0"/>
<path d="M593.9 87.8L605.5 99.4M593.9 99.4L605.5 87.8"/>
<path d="M589.0 91.6L600.6 103.2M589.0 103.2L600.6 91.6"/>
<path d="M598.1 81.4L609.7 93.0M598.1 93.0L609.7 81.4"/>
<path d="M574.0 80.8L585.6 92.4M574.0 92.4L585.6 80.8"/>
<path d="M565.4 80.4L577.0 92.0M565.4 92.0L577.0 80.4"/>
<path d="M595.6 78.6L607.2 90.2M595.6 90.2L607.2 78.6"/>
<path d="M583.5 93.1L595.1 104.7M583.5 104.7L595.1 93.1"/>
<path d="M583.1 88.4L594.7 100.0M583.1 100.0L594.7 88.4"/>
<path d="M602.5 72.6L614.1 84.2M602.5 84.2L614.1 72.6"/>
<path d="M589.3 91.2L600.9 102.8M589.3 102.8L600.9 91.2"/>
<path d="M591.3 80.4L602.9 92.0M591.3 92.0L602.9 80.4"/>
<path d="M604.7 76.9L616.3 88.5M604.7 88.5L616.3 76.9"/>
<path d="M601.8 78.4L613.4 90.0M601.8 90.0L613.4 78.4"/>
<path d="M584.1 88.7L595.7 100.3M584.1 100.3L595.7 88.7"/>
<path d="M597.9 78.4L609.5 90.0M597.9 90.0L609.5 78.4"/>
<path d="M583.8 94.1L595.4 105.7M583.8 105.7L595.4 94.1"/>
<path d="M573.6 91.5L585.2 103.1M573.6 103.1L585.2 91.5"/>
<path d="M585.8 85.4L597.4 97.0M585.8 97.0L597.4 85.4"/>
<path d="M572.8 95.2L584.4 106.8M572.8 106.8L584.4 95.2"/>
<path d="M578.3 96.8L589.9 108.4M578.3 108.4L589.9 96.8"/>
<path d="M579.3 88.8L590.9 100.4M579.3 100.4L590.9 88.8"/>
<path d="M576.8 96.7L588.4 108.3M576.8 108.3L588.4 96.7"/>
<path d="M590.7 82.2L602.3 93.8M590.7 93.8L602.3 82.2"/>
<path d="M592.2 82.3L603.8 93.9M592.2 93.9L603.8 82.3"/>
<path d="M597.7 81.5L609.3 93.1M597.7 93.1L609.3 81.5"/>
<path d="M577.5 92.2L589.1 103.8M577.5 103.8L589.1 92.2"/>
<path d="M573.9 98.1L585.5 109.7M573.9 109.7L585.5 98.1"/>
<path d="M593.7 83.6L605.3 95.2M593.7 95.2L605.3 83.6"/>
<path d="M592.3 83.2L603.9 94.8M592.3 94.8L603.9 83.2"/>
<path d="M599.8 79.6L611.4 91.2M599.8 91.2L611.4 79.6"/>
<path d="M572.1 104.6L583.7 116.2M572.1 116.2L583.7 104.6"/>
<path d="M604.9 73.4L616.5 85.0M604.9 85.0L616.5 73.4"/>
<path d="M631.4 62.4L643.0 74.0M631.4 74.0L643.0 62.4"/>
<path d="M619.4 61.8L631.0 73.4M619.4 73.4L631.0 61.8"/>
<path d="M617.4 68.4L629.0 80.0M617.4 80.0L629.0 68.4"/>
<path d="M628.2 61.7L639.8 73.3M628.2 73.3L639.8 61.7"/>
<path d="M604.1 72.2L615.7 83.8M604.1 83.8L615.7 72.2"/>
<path d="M608.7 65.5L620.3 77.1M608.7 77.1L620.3 65.5"/>
<path d="M607.7 76.8L619.3 88.4M607.7 88.4L619.3 76.8"/>
<path d="M628.1 63.5L639.7 75.1M628.1 75.1L639.7 63.5"/>
<path d="M626.0 56.5L637.6 68.1M626.0 68.1L637.6 56.5"/>
<path d="M641.3 57.5L652.9 69.1M641.3 69.1L652.9 57.5"/>
<path d="M627.5 46.8L639.1 58.4M627.5 58.4L639.1 46.8"/>
<path d="M628.3 44.1L639.9 55.7M628.3 55.7L639.9 44.1"/>
<path d="M624.0 51.8L635.6 63.4M624.0 63.4L635.6 51.8"/>
<path d="M618.2 55.9L629.8 67.5M618.2 67.5L629.8 55.9"/>
<path d="M630.7 47.9L642.3 59.5M630.7 59.5L642.3 47.9"/>
<path d="M616.1 56.5L627.7 68.1M616.1 68.1L627.7 56.5"/>
<path d="M604.3 61.9L615.9 73.5M604.3 73.5L615.9 61.9"/>
<path d="M614.5 70.6L626.1 82.2M614.5 82.2L626.1 70.6"/>
<path d="M617.7 60.3L629.3 71.9M617.7 71.9L629.3 60.3"/>
<path d="M627.6 59.3L639.2 70.9M627.6 70.9L639.2 59.3"/>
<path d="M626.6 65.6L638.2 77.2M626.6 77.2L638.2 65.6"/>
<path d="M596.6 64.9L608.2 76.5M596.6 76.5L608.2 64.9"/>
<path d="M628.5 61.3L640.1 72.9M628.5 72.9L640.1 61.3"/>
<path d="M637.0 57.7L648.6 69.3M637.0 69.3L648.6 57.7"/>
<path d="M635.6 53.7L647.2 65.3M635.6 65.3L647.2 53.7"/>
<path d="M607.8 67.2L619.4 78.8M607.8 78.8L619.4 67.2"/>
<path d="M615.8 63.1L627.4 74.7M615.8 74.7L627.4 63.1"/>
<path d="M613.1 67.6L624.7 79.2M613.1 79.2L624.7 67.6"/>
<path d="M633.1 52.9L644.7 64.5M633.1 64.5L644.7 52.9"/>
<path d="M636.6 50.7L648.2 62.3M636.6 62.3L648.2 50.7"/>
<path d="M612.4 59.3L624.0 70.9M612.4 70.9L624.0 59.3"/>
<path d="M629.9 52.4L641.5 64.0M629.9 64.0L641.5 52.4"/>
<path d="M620.0 66.1L631.6 77.7M620.0 77.7L631.6 66.1"/>
<path d="M603.2 71.7L614.8 83.3M603.2 83.3L614.8 71.7"/>
<path d="M602.0 74.3L613.6 85.9M602.0 85.9L613.6 74.3"/>
<path d="M605.0 72.1L616.6 83.7M605.0 83.7L616.6 72.1"/>
<path d="M621.7 59.0L633.3 70.6M621.7 70.6L633.3 59.0"/>
<path d="M637.4 52.8L649.0 64.4M637.4 64.4L649.0 52.8"/>
<path d="M633.5 54.3L645.1 65.9M633.5 65.9L645.1 54.3"/>
<path d="M609.9 66.0L621.5 77.6M609.9 77.6L621.5 66.0"/>
<path d="M618.7 67.1L630.3 78.7M618.7 78.7L630.3 67.1"/>
<path d="M656.0 52.0L667.6 63.6M656.0 63.6L667.6 52.0"/>
<path d="M649.9 33.6L661.5 45.2M649.9 45.2L661.5 33.6"/>
<path d="M636.2 35.7L647.8 47.3M636.2 47.3L647.8 35.7"/>
<path d="M652.6 40.9L664.2 52.5M652.6 52.5L664.2 40.9"/>
<path d="M670.2 46.9L681.8 58.5M670.2 58.5L681.8 46.9"/>
<path d="M663.7 48.0L675.3 59.6M663.7 59.6L675.3 48.0"/>
<path d="M647.6 49.4L659.2 61.0M647.6 61.0L659.2 49.4"/>
<path d="M658.3 36.8L669.9 48.4M658.3 48.4L669.9 36.8"/>
<path d="M644.7 56.5L656.3 68.1M644.7 68.1L656.3 56.5"/>
<path d="M655.6 44.8L667.2 56.4M655.6 56.4L667.2 44.8"/>
<path d="M641.2 44.7L652.8 56.3M641.2 56.3L652.8 44.7"/>
<path d="M675.4 30.7L687.0 42.3M675.4 42.3L687.0 30.7"/>
<path d="M654.6 34.5L666.2 46.1M654.6 46.1L666.2 34.5"/>
<path d="M668.9 37.2L680.5 48.8M668.9 48.8L680.5 37.2"/>
<path d="M659.3 37.7L670.9 49.3M659.3 49.3L670.9 37.7"/>
<path d="M675.4 36.8L687.0 48.4M675.4 48.4L687.0 36.8"/>
<path d="M641.2 46.9L652.8 58.5M641.2 58.5L652.8 46.9"/>
<path d="M643.5 49.8L655.1 61.4M643.5 61.4L655.1 49.8"/>
<path d="M670.8 40.7L682.4 52.3M670.8 52.3L682.4 40.7"/>
<path d="M648.9 51.2L660.5 62.8M648.9 62.8L660.5 51.2"/>
<path d="M639.2 48.1L650.8 59.7M639.2 59.7L650.8 48.1"/>
<path d="M663.9 39.2L675.5 50.8M663.9 50.8L675.5 39.2"/>
<path d="M650.5 38.6L662.1 50.2M650.5 50.2L662.1 38.6"/>
<path d="M672.9 41.4L684.5 53.0M672.9 53.0L684.5 41.4"/>
<path d="M651.3 43.8L662.9 55.4M651.3 55.4L662.9 43.8"/>
<path d="M670.1 42.9L681.7 54.5M670.1 54.5L681.7 42.9"/>
</g></g>
<g clip-path="url(#cr)">
<g fill="#0000ff" fill-opacity="0.5" stroke="#0000ff" stroke-opacity="0.5" stroke-width="1">
<circle cx="1083.4" cy="263.7" r="6.6"/>
<circle cx="1088.3" cy="289.9" r="6.6"/>
<circle cx="1012.9" cy="282.3" r="6.6"/>
<circle cx="1024.5" cy="285.0" r="6.6"/>
<circle cx="951.8" cy="302.4" r="6.6"/>
<circle cx="1014.3" cy="314.8" r="6.6"/>
<circle cx="1059.1" cy="314.8" r="6.6"/>
<circle cx="972.6" cy="320.0" r="6.6"/>
<circle cx="980.4" cy="329.6" r="6.6"/>
<circle cx="981.0" cy="331.0" r="6.6"/>
<circle cx="1040.6" cy="335.1" r="6.6"/>
<circle cx="1031.8" cy="341.4" r="6.6"/>
<circle cx="966.7" cy="344.8" r="6.6"/>
<circle cx="986.4" cy="348.2" r="6.6"/>
<circle cx="996.5" cy="349.5" r="6.6"/>
<circle cx="992.2" cy="354.4" r="6.6"/>
<circle cx="991.0" cy="353.0" r="6.6"/>
<circle cx="1011.0" cy="347.2" r="6.6"/>
<circle cx="1019.7" cy="352.9" r="6.6"/>
<circle cx="1008.3" cy="359.3" r="6.6"/>
<circle cx="1039.3" cy="357.5" r="6.6"/>
<circle cx="937.9" cy="352.5" r="6.6"/>
<circle cx="976.5" cy="355.1" r="6.6"/>
<circle cx="959.2" cy="358.4" r="6.6"/>
<circle cx="988.9" cy="365.2" r="6.6"/>
<circle cx="965.4" cy="368.0" r="6.6"/>
<circle cx="969.6" cy="368.3" r="6.6"/>
<circle cx="950.6" cy="368.6" r="6.6"/>
<circle cx="949.0" cy="370.0" r="6.6"/>
<circle cx="947.2" cy="373.8" r="6.6"/>
<circle cx="979.7" cy="374.4" r="6.6"/>
<circle cx="979.5" cy="376.0" r="6.6"/>
<circle cx="979.1" cy="379.7" r="6.6"/>
<circle cx="1015.1" cy="363.4" r="6.6"/>
<circle cx="1014.0" cy="362.0" r="6.6"/>
<circle cx="1019.0" cy="370.6" r="6.6"/>
<circle cx="1035.4" cy="370.6" r="6.6"/>
<circle cx="1010.5" cy="379.1" r="6.6"/>
<circle cx="999.4" cy="388.9" r="6.6"/>
<circle cx="936.2" cy="380.4" r="6.6"/>
<circle cx="930.5" cy="380.0" r="6.6"/>
<circle cx="949.5" cy="382.4" r="6.6"/>
<circle cx="957.0" cy="390.8" r="6.6"/>
<circle cx="974.4" cy="392.8" r="6.6"/>
<circle cx="944.0" cy="398.4" r="6.6"/>
<circle cx="959.4" cy="399.6" r="6.6"/>
<circle cx="950.5" cy="402.3" r="6.6"/>
<circle cx="951.5" cy="402.5" r="6.6"/>
<circle cx="968.0" cy="409.2" r="6.6"/>
<circle cx="936.4" cy="409.8" r="6.6"/>
<circle cx="935.0" cy="410.0" r="6.6"/>
<circle cx="930.2" cy="409.2" r="6.6"/>
<circle cx="950.6" cy="415.3" r="6.6"/>
<circle cx="951.5" cy="416.0" r="6.6"/>
<circle cx="1000.6" cy="413.1" r="6.6"/>
<circle cx="1015.1" cy="416.5" r="6.6"/>
<circle cx="1015.3" cy="416.8" r="6.6"/>
<circle cx="1049.6" cy="413.9" r="6.6"/>
<circle cx="968.6" cy="425.2" r="6.6"/>
<circle cx="977.0" cy="427.7" r="6.6"/>
<circle cx="911.6" cy="371.1" r="6.6"/>
<circle cx="907.6" cy="390.1" r="6.6"/>
<circle cx="918.1" cy="396.7" r="6.6"/>
<circle cx="920.7" cy="423.5" r="6.6"/>
<circle cx="929.0" cy="429.5" r="6.6"/>
<circle cx="917.4" cy="435.0" r="6.6"/>
<circle cx="909.0" cy="444.4" r="6.6"/>
<circle cx="909.3" cy="447.0" r="6.6"/>
<circle cx="909.6" cy="450.9" r="6.6"/>
<circle cx="911.5" cy="459.5" r="6.6"/>
<circle cx="926.6" cy="447.1" r="6.6"/>
<circle cx="947.5" cy="438.6" r="6.6"/>
<circle cx="953.4" cy="442.8" r="6.6"/>
<circle cx="952.5" cy="442.0" r="6.6"/>
<circle cx="963.3" cy="451.7" r="6.6"/>
<circle cx="947.5" cy="455.5" r="6.6"/>
<circle cx="942.3" cy="459.5" r="6.6"/>
<circle cx="943.0" cy="458.0" r="6.6"/>
<circle cx="925.9" cy="460.1" r="6.6"/>
<circle cx="927.0" cy="459.0" r="6.6"/>
<circle cx="933.8" cy="458.8" r="6.6"/>
<circle cx="921.4" cy="470.6" r="6.6"/>
<circle cx="941.7" cy="468.6" r="6.6"/>
<circle cx="889.3" cy="456.7" r="6.6"/>
<circle cx="896.5" cy="477.1" r="6.6"/>
<circle cx="898.0" cy="476.0" r="6.6"/>
<circle cx="907.0" cy="485.0" r="6.6"/>
<circle cx="896.5" cy="490.9" r="6.6"/>
<circle cx="912.8" cy="493.5" r="6.6"/>
<circle cx="925.3" cy="489.6" r="6.6"/>
<circle cx="937.7" cy="496.8" r="6.6"/>
<circle cx="962.0" cy="499.4" r="6.6"/>
<circle cx="985.6" cy="494.4" r="6.6"/>
<circle cx="989.4" cy="468.0" r="6.6"/>
<circle cx="866.4" cy="502.3" r="6.6"/>
<circle cx="896.5" cy="515.3" r="6.6"/>
<circle cx="944.3" cy="514.3" r="6.6"/>
<circle cx="870.3" cy="529.2" r="6.6"/>
<circle cx="885.1" cy="534.3" r="6.6"/>
<circle cx="952.8" cy="533.0" r="6.6"/>
<circle cx="866.4" cy="561.5" r="6.6"/>
<circle cx="871.0" cy="560.5" r="6.6"/>
<circle cx="902.1" cy="564.2" r="6.6"/>
<circle cx="902.3" cy="564.4" r="6.6"/>
</g>
<g stroke="#ff0000" stroke-opacity="0.5" stroke-width="2" fill="none">
<path d="M1459.7 36.2L1471.3 47.8M1459.7 47.8L1471.3 36.2"/>
<path d="M1132.6 586.0L1144.2 597.6M1132.6 597.6L1144.2 586.0"/>
<path d="M1142.4 611.3L1154.0 622.9M1142.4 622.9L1154.0 611.3"/>
<path d="M1151.4 557.3L1163.0 568.9M1151.4 568.9L1163.0 557.3"/>
<path d="M1153.5 529.7L1165.1 541.3M1153.5 541.3L1165.1 529.7"/>
<path d="M1162.3 521.7L1173.9 533.3M1162.3 533.3L1173.9 521.7"/>
<path d="M1168.6 520.7L1180.2 532.3M1168.6 532.3L1180.2 520.7"/>
<path d="M1163.4 517.5L1175.0 529.1M1163.4 529.1L1175.0 517.5"/>
<path d="M1157.1 506.0L1168.7 517.6M1157.1 517.6L1168.7 506.0"/>
<path d="M1167.5 495.6L1179.1 507.2M1167.5 507.2L1179.1 495.6"/>
<path d="M1177.0 482.0L1188.6 493.6M1177.0 493.6L1188.6 482.0"/>
<path d="M1179.1 485.1L1190.7 496.7M1179.1 496.7L1190.7 485.1"/>
<path d="M1175.9 465.2L1187.5 476.8M1175.9 476.8L1187.5 465.2"/>
<path d="M1181.2 465.2L1192.8 476.8M1181.2 476.8L1192.8 465.2"/>
<path d="M1174.6 461.0L1186.2 472.6M1174.6 472.6L1186.2 461.0"/>
<path d="M1185.6 462.5L1197.2 474.1M1185.6 474.1L1197.2 462.5"/>
<path d="M1221.7 376.2L1233.3 387.8M1221.7 387.8L1233.3 376.2"/>
<path d="M1202.9 426.4L1214.5 438.0M1202.9 438.0L1214.5 426.4"/>
<path d="M1171.5 423.3L1183.1 434.9M1171.5 434.9L1183.1 423.3"/>
<path d="M1177.7 401.3L1189.3 412.9M1177.7 412.9L1189.3 401.3"/>
<path d="M1196.6 390.3L1208.2 401.9M1196.6 401.9L1208.2 390.3"/>
<path d="M1195.0 376.2L1206.6 387.8M1195.0 387.8L1206.6 376.2"/>
<path d="M1193.4 358.9L1205.0 370.5M1193.4 370.5L1205.0 358.9"/>
<path d="M1206.2 302.9L1217.8 314.5M1206.2 314.5L1217.8 302.9"/>
<path d="M1258.4 270.8L1270.0 282.4M1258.4 282.4L1270.0 270.8"/>
<path d="M1239.2 306.6L1250.8 318.2M1239.2 318.2L1250.8 306.6"/>
<path d="M1202.5 318.5L1214.1 330.1M1202.5 330.1L1214.1 318.5"/>
<path d="M1216.3 275.4L1227.9 287.0M1216.3 287.0L1227.9 275.4"/>
<path d="M1228.2 262.6L1239.8 274.2M1228.2 274.2L1239.8 262.6"/>
<path d="M1235.0 171.0L1246.6 182.6M1235.0 182.6L1246.6 171.0"/>
<path d="M1251.7 163.1L1263.3 174.7M1251.7 174.7L1263.3 163.1"/>
<path d="M1259.5 167.0L1271.1 178.6M1259.5 178.6L1271.1 167.0"/>
<path d="M1278.2 119.9L1289.8 131.5M1278.2 131.5L1289.8 119.9"/>
<path d="M1279.2 139.5L1290.8 151.1M1279.2 151.1L1290.8 139.5"/>
<path d="M1243.8 204.3L1255.4 215.9M1243.8 215.9L1255.4 204.3"/>
<path d="M1228.1 225.9L1239.7 237.5M1228.1 237.5L1239.7 225.9"/>
<path d="M1291.0 207.3L1302.6 218.9M1291.0 218.9L1302.6 207.3"/>
<path d="M1445.4 40.7L1457.0 52.3M1445.4 52.3L1457.0 40.7"/>
<path d="M1440.8 42.5L1452.4 54.1M1440.8 54.1L1452.4 42.5"/>
<path d="M1418.9 48.0L1430.5 59.6M1418.9 59.6L1430.5 48.0"/>
<path d="M1388.6 48.0L1400.2 59.6M1388.6 59.6L1400.2 48.0"/>
<path d="M1370.3 62.7L1381.9 74.3M1370.3 74.3L1381.9 62.7"/>
<path d="M1351.1 70.0L1362.7 81.6M1351.1 81.6L1362.7 70.0"/>
<path d="M1414.3 62.7L1425.9 74.3M1414.3 74.3L1425.9 62.7"/>
<path d="M1392.3 82.8L1403.9 94.4M1392.3 94.4L1403.9 82.8"/>
<path d="M1361.2 104.8L1372.8 116.4M1361.2 116.4L1372.8 104.8"/>
<path d="M1353.8 115.8L1365.4 127.4M1353.8 127.4L1365.4 115.8"/>
<path d="M1339.2 134.2L1350.8 145.8M1339.2 145.8L1350.8 134.2"/>
<path d="M1320.8 152.5L1332.4 164.1M1320.8 164.1L1332.4 152.5"/>
<path d="M1289.7 101.2L1301.3 112.8M1289.7 112.8L1301.3 101.2"/>
<path d="M1308.0 101.2L1319.6 112.8M1308.0 112.8L1319.6 101.2"/>
<path d="M1321.8 99.3L1333.4 110.9M1321.8 110.9L1333.4 99.3"/>
<path d="M1188.1 427.9L1199.7 439.5M1188.1 439.5L1199.7 427.9"/>
<path d="M1184.6 429.4L1196.2 441.0M1184.6 441.0L1196.2 429.4"/>
<path d="M1181.2 435.8L1192.8 447.4M1181.2 447.4L1192.8 435.8"/>
<path d="M1191.1 442.7L1202.7 454.3M1191.1 454.3L1202.7 442.7"/>
<path d="M1176.3 442.8L1187.9 454.4M1176.3 454.4L1187.9 442.8"/>
<path d="M1193.3 427.1L1204.9 438.7M1193.3 438.7L1204.9 427.1"/>
<path d="M1182.4 447.1L1194.0 458.7M1182.4 458.7L1194.0 447.1"/>
<path d="M1184.4 445.5L1196.0 457.1M1184.4 457.1L1196.0 445.5"/>
<path d="M1187.5 448.3L1199.1 459.9M1187.5 459.9L1199.1 448.3"/>
<path d="M1177.7 454.5L1189.3 466.1M1177.7 466.1L1189.3 454.5"/>
<path d="M1186.4 448.5L1198.0 460.1M1186.4 460.1L1198.0 448.5"/>
<path d="M1189.8 438.7L1201.4 450.3M1189.8 450.3L1201.4 438.7"/>
<path d="M1189.2 427.2L1200.8 438.8M1189.2 438.8L1200.8 427.2"/>
<path d="M1174.5 430.4L1186.1 442.0M1174.5 442.0L1186.1 430.4"/>
<path d="M1192.8 451.8L1204.4 463.4M1192.8 463.4L1204.4 451.8"/>
<path d="M1182.8 432.4L1194.4 444.0M1182.8 444.0L1194.4 432.4"/>
<path d="M1176.9 442.0L1188.5 453.6M1176.9 453.6L1188.5 442.0"/>
<path d="M1182.8 441.8L1194.4 453.4M1182.8 453.4L1194.4 441.8"/>
<path d="M1186.0 449.5L1197.6 461.1M1186.0 461.1L1197.6 449.5"/>
<path d="M1179.9 438.3L1191.5 449.9M1179.9 449.9L1191.5 438.3"/>
<path d="M1182.3 435.1L1193.9 446.7M1182.3 446.7L1193.9 435.1"/>
<path d="M1184.4 437.0L1196.0 448.6M1184.4 448.6L1196.0 437.0"/>
<path d="M1184.7 428.3L1196.3 439.9M1184.7 439.9L1196.3 428.3"/>
<path d="M1193.5 426.2L1205.1 437.8M1193.5 437.8L1205.1 426.2"/>
<path d="M1179.5 442.1L1191.1 453.7M1179.5 453.7L1191.1 442.1"/>
<path d="M1181.5 451.4L1193.1 463.0M1181.5 463.0L1193.1 451.4"/>
<path d="M1186.4 445.0L1198.0 456.6M1186.4 456.6L1198.0 445.0"/>
<path d="M1183.5 429.9L1195.1 441.5M1183.5 441.5L1195.1 429.9"/>
<path d="M1187.3 429.8L1198.9 441.4M1187.3 441.4L1198.9 429.8"/>
<path d="M1188.4 439.0L1200.0 450.6M1188.4 450.6L1200.0 439.0"/>
<path d="M1182.3 453.6L1193.9 465.2M1182.3 465.2L1193.9 453.6"/>
<path d="M1184.1 430.6L1195.7 442.2M1184.1 442.2L1195.7 430.6"/>
<path d="M1183.2 453.6L1194.8 465.2M1183.2 465.2L1194.8 453.6"/>
<path d="M1179.0 461.3L1190.6 472.9M1179.0 472.9L1190.6 461.3"/>
<path d="M1186.2 417.5L1197.8 429.1M1186.2 429.1L1197.8 417.5"/>
<path d="M1183.8 422.0L1195.4 433.6M1183.8 433.6L1195.4 422.0"/>
<path d="M1185.5 424.9L1197.1 436.5M1185.5 436.5L1197.1 424.9"/>
<path d="M1201.0 421.5L1212.6 433.1M1201.0 433.1L1212.6 421.5"/>
<path d="M1203.5 418.5L1215.1 430.1M1203.5 430.1L1215.1 418.5"/>
<path d="M1192.4 425.2L1204.0 436.8M1192.4 436.8L1204.0 425.2"/>
<path d="M1189.6 408.2L1201.2 419.8M1189.6 419.8L1201.2 408.2"/>
<path d="M1182.7 422.8L1194.3 434.4M1182.7 434.4L1194.3 422.8"/>
<path d="M1190.0 402.3L1201.6 413.9M1190.0 413.9L1201.6 402.3"/>
<path d="M1176.8 396.8L1188.4 408.4M1176.8 408.4L1188.4 396.8"/>
<path d="M1190.5 412.5L1202.1 424.1M1190.5 424.1L1202.1 412.5"/>
<path d="M1197.6 424.1L1209.2 435.7M1197.6 435.7L1209.2 424.1"/>
<path d="M1197.9 402.5L1209.5 414.1M1197.9 414.1L1209.5 402.5"/>
<path d="M1195.9 413.2L1207.5 424.8M1195.9 424.8L1207.5 413.2"/>
<path d="M1191.3 398.5L1202.9 410.1M1191.3 410.1L1202.9 398.5"/>
<path d="M1196.6 425.8L1208.2 437.4M1196.6 437.4L1208.2 425.8"/>
<path d="M1188.6 422.1L1200.2 433.7M1188.6 433.7L1200.2 422.1"/>
<path d="M1187.2 421.2L1198.8 432.8M1187.2 432.8L1198.8 421.2"/>
<path d="M1197.4 410.3L1209.0 421.9M1197.4 421.9L1209.0 410.3"/>
<path d="M1186.7 418.0L1198.3 429.6M1186.7 429.6L1198.3 418.0"/>
<path d="M1184.0 415.4L1195.6 427.0M1184.0 427.0L1195.6 415.4"/>
<path d="M1187.8 405.4L1199.4 417.0M1187.8 417.0L1199.4 405.4"/>
<path d="M1188.0 414.5L1199.6 426.1M1188.0 426.1L1199.6 414.5"/>
<path d="M1188.3 414.7L1199.9 426.3M1188.3 426.3L1199.9 414.7"/>
<path d="M1190.4 405.9L1202.0 417.5M1190.4 417.5L1202.0 405.9"/>
<path d="M1188.9 419.4L1200.5 431.0M1188.9 431.0L1200.5 419.4"/>
<path d="M1186.7 409.0L1198.3 420.6M1186.7 420.6L1198.3 409.0"/>
<path d="M1188.5 417.0L1200.1 428.6M1188.5 428.6L1200.1 417.0"/>
<path d="M1191.5 398.0L1203.1 409.6M1191.5 409.6L1203.1 398.0"/>
<path d="M1185.8 409.5L1197.4 421.1M1185.8 421.1L1197.4 409.5"/>
<path d="M1186.3 414.0L1197.9 425.6M1186.3 425.6L1197.9 414.0"/>
<path d="M1190.6 403.0L1202.2 414.6M1190.6 414.6L1202.2 403.0"/>
<path d="M1193.2 411.9L1204.8 423.5M1193.2 423.5L1204.8 411.9"/>
<path d="M1189.9 397.7L1201.5 409.3M1189.9 409.3L1201.5 397.7"/>
<path d="M1191.0 396.7L1202.6 408.3M1191.0 408.3L1202.6 396.7"/>
<path d="M1203.1 376.7L1214.7 388.3M1203.1 388.3L1214.7 376.7"/>
<path d="M1186.6 392.9L1198.2 404.5M1186.6 404.5L1198.2 392.9"/>
<path d="M1197.3 393.5L1208.9 405.1M1197.3 405.1L1208.9 393.5"/>
<path d="M1193.1 393.3L1204.7 404.9M1193.1 404.9L1204.7 393.3"/>
<path d="M1199.5 398.4L1211.1 410.0M1199.5 410.0L1211.1 398.4"/>
<path d="M1189.9 389.6L1201.5 401.2M1189.9 401.2L1201.5 389.6"/>
<path d="M1201.1 379.5L1212.7 391.1M1201.1 391.1L1212.7 379.5"/>
<path d="M1196.5 394.5L1208.1 406.1M1196.5 406.1L1208.1 394.5"/>
<path d="M1204.3 382.6L1215.9 394.2M1204.3 394.2L1215.9 382.6"/>
<path d="M1210.6 386.1L1222.2 397.7M1210.6 397.7L1222.2 386.1"/>
<path d="M1204.2 382.1L1215.8 393.7M1204.2 393.7L1215.8 382.1"/>
<path d="M1187.5 383.6L1199.1 395.2M1187.5 395.2L1199.1 383.6"/>
<path d="M1202.6 387.4L1214.2 399.0M1202.6 399.0L1214.2 387.4"/>
<path d="M1209.0 376.3L1220.6 387.9M1209.0 387.9L1220.6 376.3"/>
<path d="M1190.4 387.7L1202.0 399.3M1190.4 399.3L1202.0 387.7"/>
<path d="M1199.8 385.7L1211.4 397.3M1199.8 397.3L1211.4 385.7"/>
<path d="M1208.5 378.3L1220.1 389.9M1208.5 389.9L1220.1 378.3"/>
<path d="M1207.4 378.8L1219.0 390.4M1207.4 390.4L1219.0 378.8"/>
<path d="M1195.6 395.2L1207.2 406.8M1195.6 406.8L1207.2 395.2"/>
<path d="M1199.2 397.5L1210.8 409.1M1199.2 409.1L1210.8 397.5"/>
<path d="M1203.7 385.9L1215.3 397.5M1203.7 397.5L1215.3 385.9"/>
<path d="M1197.5 390.4L1209.1 402.0M1197.5 402.0L1209.1 390.4"/>
<path d="M1202.5 390.0L1214.1 401.6M1202.5 401.6L1214.1 390.0"/>
<path d="M1188.1 389.6L1199.7 401.2M1188.1 401.2L1199.7 389.6"/>
<path d="M1204.2 371.5L1215.8 383.1M1204.2 383.1L1215.8 371.5"/>
<path d="M1210.8 353.1L1222.4 364.7M1210.8 364.7L1222.4 353.1"/>
<path d="M1225.2 356.5L1236.8 368.1M1225.2 368.1L1236.8 356.5"/>
<path d="M1214.8 346.1L1226.4 357.7M1214.8 357.7L1226.4 346.1"/>
<path d="M1201.5 361.8L1213.1 373.4M1201.5 373.4L1213.1 361.8"/>
<path d="M1213.8 357.3L1225.4 368.9M1213.8 368.9L1225.4 357.3"/>
<path d="M1207.3 360.1L1218.9 371.7M1207.3 371.7L1218.9 360.1"/>
<path d="M1221.0 355.1L1232.6 366.7M1221.0 366.7L1232.6 355.1"/>
<path d="M1208.6 345.2L1220.2 356.8M1208.6 356.8L1220.2 345.2"/>
<path d="M1205.8 349.5L1217.4 361.1M1205.8 361.1L1217.4 349.5"/>
<path d="M1200.2 366.1L1211.8 377.7M1200.2 377.7L1211.8 366.1"/>
<path d="M1201.2 360.5L1212.8 372.1M1201.2 372.1L1212.8 360.5"/>
<path d="M1195.4 372.7L1207.0 384.3M1195.4 384.3L1207.0 372.7"/>
<path d="M1218.9 353.3L1230.5 364.9M1218.9 364.9L1230.5 353.3"/>
<path d="M1202.1 371.9L1213.7 383.5M1202.1 383.5L1213.7 371.9"/>
<path d="M1206.6 350.1L1218.2 361.7M1206.6 361.7L1218.2 350.1"/>
<path d="M1204.5 370.2L1216.1 381.8M1204.5 381.8L1216.1 370.2"/>
<path d="M1213.5 351.4L1225.1 363.0M1213.5 363.0L1225.1 351.4"/>
<path d="M1212.8 368.9L1224.4 380.5M1212.8 380.5L1224.4 368.9"/>
<path d="M1205.7 371.5L1217.3 383.1M1205.7 383.1L1217.3 371.5"/>
<path d="M1208.5 357.4L1220.1 369.0M1208.5 369.0L1220.1 357.4"/>
<path d="M1209.1 371.0L1220.7 382.6M1209.1 382.6L1220.7 371.0"/>
<path d="M1210.1 358.8L1221.7 370.4M1210.1 370.4L1221.7 358.8"/>
<path d="M1211.4 354.1L1223.0 365.7M1211.4 365.7L1223.0 354.1"/>
<path d="M1205.8 365.1L1217.4 376.7M1205.8 376.7L1217.4 365.1"/>
<path d="M1221.0 325.3L1232.6 336.9M1221.0 336.9L1232.6 325.3"/>
<path d="M1215.5 336.9L1227.1 348.5M1215.5 348.5L1227.1 336.9"/>
<path d="M1211.0 311.7L1222.6 323.3M1211.0 323.3L1222.6 311.7"/>
<path d="M1227.2 315.3L1238.8 326.9M1227.2 326.9L1238.8 315.3"/>
<path d="M1208.6 337.6L1220.2 349.2M1208.6 349.2L1220.2 337.6"/>
<path d="M1218.6 344.9L1230.2 356.5M1218.6 356.5L1230.2 344.9"/>
<path d="M1215.2 307.3L1226.8 318.9M1215.2 318.9L1226.8 307.3"/>
<path d="M1224.4 328.0L1236.0 339.6M1224.4 339.6L1236.0 328.0"/>
<path d="M1211.0 331.4L1222.6 343.0M1211.0 343.0L1222.6 331.4"/>
<path d="M1213.8 310.2L1225.4 321.8M1213.8 321.8L1225.4 310.2"/>
<path d="M1217.2 311.6L1228.8 323.2M1217.2 323.2L1228.8 311.6"/>
<path d="M1229.3 323.0L1240.9 334.6M1229.3 334.6L1240.9 323.0"/>
<path d="M1229.9 315.8L1241.5 327.4M1229.9 327.4L1241.5 315.8"/>
<path d="M1224.2 324.6L1235.8 336.2M1224.2 336.2L1235.8 324.6"/>
<path d="M1215.5 314.6L1227.1 326.2M1215.5 326.2L1227.1 314.6"/>
<path d="M1212.5 327.2L1224.1 338.8M1212.5 338.8L1224.1 327.2"/>
<path d="M1219.4 333.5L1231.0 345.1M1219.4 345.1L1231.0 333.5"/>
<path d="M1215.5 330.5L1227.1 342.1M1215.5 342.1L1227.1 330.5"/>
<path d="M1222.9 335.4L1234.5 347.0M1222.9 347.0L1234.5 335.4"/>
<path d="M1220.8 329.6L1232.4 341.2M1220.8 341.2L1232.4 329.6"/>
<path d="M1228.8 312.4L1240.4 324.0M1228.8 324.0L1240.4 312.4"/>
<path d="M1217.4 309.5L1229.0 321.1M1217.4 321.1L1229.0 309.5"/>
<path d="M1214.6 339.9L1226.2 351.5M1214.6 351.5L1226.2 339.9"/>
<path d="M1218.6 331.5L1230.2 343.1M1218.6 343.1L1230.2 331.5"/>
<path d="M1221.2 314.4L1232.8 326.0M1221.2 326.0L1232.8 314.4"/>
<path d="M1223.2 329.6L1234.8 341.2M1223.2 341.2L1234.8 329.6"/>
<path d="M1221.8 332.9L1233.4 344.5M1221.8 344.5L1233.4 332.9"/>
<path d="M1214.3 315.6L1225.9 327.2M1214.3 327.2L1225.9 315.6"/>
<path d="M1220.3 315.0L1231.9 326.6M1220.3 326.6L1231.9 315.0"/>
<path d="M1213.3 312.7L1224.9 324.3M1213.3 324.3L1224.9 312.7"/>
<path d="M1212.1 333.1L1223.7 344.7M1212.1 344.7L1223.7 333.1"/>
<path d="M1212.9 330.0L1224.5 341.6M1212.9 341.6L1224.5 330.0"/>
<path d="M1219.7 306.6L1231.3 318.2M1219.7 318.2L1231.3 306.6"/>
<path d="M1218.3 336.2L1229.9 347.8M1218.3 347.8L1229.9 336.2"/>
<path d="M1217.2 340.8L1228.8 352.4M1217.2 352.4L1228.8 340.8"/>
<path d="M1222.4 308.9L1234.0 320.5M1222.4 320.5L1234.0 308.9"/>
<path d="M1215.7 316.1L1227.3 327.7M1215.7 327.7L1227.3 316.1"/>
<path d="M1222.3 314.2L1233.9 325.8M1222.3 325.8L1233.9 314.2"/>
<path d="M1214.4 334.1L1226.0 345.7M1214.4 345.7L1226.0 334.1"/>
<path d="M1219.6 311.1L1231.2 322.7M1219.6 322.7L1231.2 311.1"/>
<path d="M1215.1 339.4L1226.7 351.0M1215.1 351.0L1226.7 339.4"/>
<path d="M1231.5 301.3L1243.1 312.9M1231.5 312.9L1243.1 301.3"/>
<path d="M1226.5 299.2L1238.1 310.8M1226.5 310.8L1238.1 299.2"/>
<path d="M1239.3 297.5L1250.9 309.1M1239.3 309.1L1250.9 297.5"/>
<path d="M1232.1 309.3L1243.7 320.9M1232.1 320.9L1243.7 309.3"/>
<path d="M1246.6 286.1L1258.2 297.7M1246.6 297.7L1258.2 286.1"/>
<path d="M1235.1 289.2L1246.7 300.8M1235.1 300.8L1246.7 289.2"/>
<path d="M1225.8 282.9L1237.4 294.5M1225.8 294.5L1237.4 282.9"/>
<path d="M1231.0 267.6L1242.6 279.2M1231.0 279.2L1242.6 267.6"/>
<path d="M1233.3 297.0L1244.9 308.6M1233.3 308.6L1244.9 297.0"/>
<path d="M1224.1 280.2L1235.7 291.8M1224.1 291.8L1235.7 280.2"/>
<path d="M1233.1 267.9L1244.7 279.5M1233.1 279.5L1244.7 267.9"/>
<path d="M1220.6 288.9L1232.2 300.5M1220.6 300.5L1232.2 288.9"/>
<path d="M1229.6 303.6L1241.2 315.2M1229.6 315.2L1241.2 303.6"/>
<path d="M1235.5 305.8L1247.1 317.4M1235.5 317.4L1247.1 305.8"/>
<path d="M1218.8 303.2L1230.4 314.8M1218.8 314.8L1230.4 303.2"/>
<path d="M1238.6 280.7L1250.2 292.3M1238.6 292.3L1250.2 280.7"/>
<path d="M1224.6 302.3L1236.2 313.9M1224.6 313.9L1236.2 302.3"/>
<path d="M1249.9 290.0L1261.5 301.6M1249.9 301.6L1261.5 290.0"/>
<path d="M1234.6 308.8L1246.2 320.4M1234.6 320.4L1246.2 308.8"/>
<path d="M1215.7 295.5L1227.3 307.1M1215.7 307.1L1227.3 295.5"/>
<path d="M1230.7 291.3L1242.3 302.9M1230.7 302.9L1242.3 291.3"/>
<path d="M1237.8 305.4L1249.4 317.0M1237.8 317.0L1249.4 305.4"/>
<path d="M1226.4 278.0L1238.0 289.6M1226.4 289.6L1238.0 278.0"/>
<path d="M1219.8 301.8L1231.4 313.4M1219.8 313.4L1231.4 301.8"/>
<path d="M1223.7 304.4L1235.3 316.0M1223.7 316.0L1235.3 304.4"/>
<path d="M1224.8 305.5L1236.4 317.1M1224.8 317.1L1236.4 305.5"/>
<path d="M1244.4 278.3L1256.0 289.9M1244.4 289.9L1256.0 278.3"/>
<path d="M1216.3 275.1L1227.9 286.7M1216.3 286.7L1227.9 275.1"/>
<path d="M1224.1 302.1L1235.7 313.7M1224.1 313.7L1235.7 302.1"/>
<path d="M1232.8 285.8L1244.4 297.4M1232.8 297.4L1244.4 285.8"/>
<path d="M1232.4 293.5L1244.0 305.1M1232.4 305.1L1244.0 293.5"/>
<path d="M1230.6 293.5L1242.2 305.1M1230.6 305.1L1242.2 293.5"/>
<path d="M1223.1 288.2L1234.7 299.8M1223.1 299.8L1234.7 288.2"/>
<path d="M1237.5 280.1L1249.1 291.7M1237.5 291.7L1249.1 280.1"/>
<path d="M1233.4 281.4L1245.0 293.0M1233.4 293.0L1245.0 281.4"/>
<path d="M1220.0 306.2L1231.6 317.8M1220.0 317.8L1231.6 306.2"/>
<path d="M1230.9 285.4L1242.5 297.0M1230.9 297.0L1242.5 285.4"/>
<path d="M1231.9 284.7L1243.5 296.3M1231.9 296.3L1243.5 284.7"/>
<path d="M1218.1 302.1L1229.7 313.7M1218.1 313.7L1229.7 302.1"/>
<path d="M1237.2 280.4L1248.8 292.0M1237.2 292.0L1248.8 280.4"/>
<path d="M1220.6 299.8L1232.2 311.4M1220.6 311.4L1232.2 299.8"/>
<path d="M1230.8 281.6L1242.4 293.2M1230.8 293.2L1242.4 281.6"/>
<path d="M1237.8 270.2L1249.4 281.8M1237.8 281.8L1249.4 270.2"/>
<path d="M1229.5 289.0L1241.1 300.6M1229.5 300.6L1241.1 289.0"/>
<path d="M1235.5 283.9L1247.1 295.5M1235.5 295.5L1247.1 283.9"/>
<path d="M1233.0 273.4L1244.6 285.0M1233.0 285.0L1244.6 273.4"/>
<path d="M1232.0 280.7L1243.6 292.3M1232.0 292.3L1243.6 280.7"/>
<path d="M1236.5 286.1L1248.1 297.7M1236.5 297.7L1248.1 286.1"/>
<path d="M1240.4 277.3L1252.0 288.9M1240.4 288.9L1252.0 277.3"/>
<path d="M1224.1 293.6L1235.7 305.2M1224.1 305.2L1235.7 293.6"/>
<path d="M1235.6 274.6L1247.2 286.2M1235.6 286.2L1247.2 274.6"/>
<path d="M1232.2 278.6L1243.8 290.2M1232.2 290.2L1243.8 278.6"/>
<path d="M1223.3 288.8L1234.9 300.4M1223.3 300.4L1234.9 288.8"/>
<path d="M1229.7 290.2L1241.3 301.8M1229.7 301.8L1241.3 290.2"/>
<path d="M1246.2 267.5L1257.8 279.1M1246.2 279.1L1257.8 267.5"/>
<path d="M1244.6 251.7L1256.2 263.3M1244.6 263.3L1256.2 251.7"/>
<path d="M1254.3 246.7L1265.9 258.3M1254.3 258.3L1265.9 246.7"/>
<path d="M1238.0 246.8L1249.6 258.4M1238.0 258.4L1249.6 246.8"/>
<path d="M1227.7 256.1L1239.3 267.7M1227.7 267.7L1239.3 256.1"/>
<path d="M1250.1 242.9L1261.7 254.5M1250.1 254.5L1261.7 242.9"/>
<path d="M1241.9 266.1L1253.5 277.7M1241.9 277.7L1253.5 266.1"/>
<path d="M1241.9 261.4L1253.5 273.0M1241.9 273.0L1253.5 261.4"/>
<path d="M1257.3 263.1L1268.9 274.7M1257.3 274.7L1268.9 263.1"/>
<path d="M1259.7 250.4L1271.3 262.0M1259.7 262.0L1271.3 250.4"/>
<path d="M1241.7 266.5L1253.3 278.1M1241.7 278.1L1253.3 266.5"/>
<path d="M1254.1 262.0L1265.7 273.6M1254.1 273.6L1265.7 262.0"/>
<path d="M1251.5 252.4L1263.1 264.0M1251.5 264.0L1263.1 252.4"/>
<path d="M1253.0 248.0L1264.6 259.6M1253.0 259.6L1264.6 248.0"/>
<path d="M1250.1 237.8L1261.7 249.4M1250.1 249.4L1261.7 237.8"/>
<path d="M1236.4 262.3L1248.0 273.9M1236.4 273.9L1248.0 262.3"/>
<path d="M1232.4 241.8L1244.0 253.4M1232.4 253.4L1244.0 241.8"/>
<path d="M1242.4 263.4L1254.0 275.0M1242.4 275.0L1254.0 263.4"/>
<path d="M1243.2 267.6L1254.8 279.2M1243.2 279.2L1254.8 267.6"/>
<path d="M1226.5 251.6L1238.1 263.2M1226.5 263.2L1238.1 251.6"/>
<path d="M1253.1 260.1L1264.7 271.7M1253.1 271.7L1264.7 260.1"/>
<path d="M1243.4 263.9L1255.0 275.5M1243.4 275.5L1255.0 263.9"/>
<path d="M1250.3 271.1L1261.9 282.7M1250.3 282.7L1261.9 271.1"/>
<path d="M1259.4 255.2L1271.0 266.8M1259.4 266.8L1271.0 255.2"/>
<path d="M1246.7 257.0L1258.3 268.6M1246.7 268.6L1258.3 257.0"/>
<path d="M1239.0 251.7L1250.6 263.3M1239.0 263.3L1250.6 251.7"/>
<path d="M1247.6 247.4L1259.2 259.0M1247.6 259.0L1259.2 247.4"/>
<path d="M1245.0 267.3L1256.6 278.9M1245.0 278.9L1256.6 267.3"/>
<path d="M1240.6 267.6L1252.2 279.2M1240.6 279.2L1252.2 267.6"/>
<path d="M1242.4 250.6L1254.0 262.2M1242.4 262.2L1254.0 250.6"/>
<path d="M1236.1 266.1L1247.7 277.7M1236.1 277.7L1247.7 266.1"/>
<path d="M1236.9 268.9L1248.5 280.5M1236.9 280.5L1248.5 268.9"/>
<path d="M1239.3 259.1L1250.9 270.7M1239.3 270.7L1250.9 259.1"/>
<path d="M1247.9 258.1L1259.5 269.7M1247.9 269.7L1259.5 258.1"/>
<path d="M1250.1 240.8L1261.7 252.4M1250.1 252.4L1261.7 240.8"/>
<path d="M1241.2 266.5L1252.8 278.1M1241.2 278.1L1252.8 266.5"/>
<path d="M1244.2 248.2L1255.8 259.8M1244.2 259.8L1255.8 248.2"/>
<path d="M1240.5 240.1L1252.1 251.7M1240.5 251.7L1252.1 240.1"/>
<path d="M1242.9 258.8L1254.5 270.4M1242.9 270.4L1254.5 258.8"/>
<path d="M1231.9 267.2L1243.5 278.8M1231.9 278.8L1243.5 267.2"/>
<path d="M1237.4 239.8L1249.0 251.4M1237.4 251.4L1249.0 239.8"/>
<path d="M1242.6 252.9L1254.2 264.5M1242.6 264.5L1254.2 252.9"/>
<path d="M1246.2 246.0L1257.8 257.6M1246.2 257.6L1257.8 246.0"/>
<path d="M1231.1 264.9L1242.7 276.5M1231.1 276.5L1242.7 264.9"/>
<path d="M1242.0 248.1L1253.6 259.7M1242.0 259.7L1253.6 248.1"/>
<path d="M1254.0 242.4L1265.6 254.0M1254.0 254.0L1265.6 242.4"/>
<path d="M1251.3 243.2L1262.9 254.8M1251.3 254.8L1262.9 243.2"/>
<path d="M1254.0 245.3L1265.6 256.9M1254.0 256.9L1265.6 245.3"/>
<path d="M1262.2 234.6L1273.8 246.2M1262.2 246.2L1273.8 234.6"/>
<path d="M1244.2 236.4L1255.8 248.0M1244.2 248.0L1255.8 236.4"/>
<path d="M1267.0 218.9L1278.6 230.5M1267.0 230.5L1278.6 218.9"/>
<path d="M1253.4 215.2L1265.0 226.8M1253.4 226.8L1265.0 215.2"/>
<path d="M1252.7 234.2L1264.3 245.8M1252.7 245.8L1264.3 234.2"/>
<path d="M1245.1 215.6L1256.7 227.2M1245.1 227.2L1256.7 215.6"/>
<path d="M1275.3 226.8L1286.9 238.4M1275.3 238.4L1286.9 226.8"/>
<path d="M1272.6 228.2L1284.2 239.8M1272.6 239.8L1284.2 228.2"/>
<path d="M1250.7 231.0L1262.3 242.6M1250.7 242.6L1262.3 231.0"/>
<path d="M1253.6 233.3L1265.2 244.9M1253.6 244.9L1265.2 233.3"/>
<path d="M1269.4 203.1L1281.0 214.7M1269.4 214.7L1281.0 203.1"/>
<path d="M1261.2 218.2L1272.8 229.8M1261.2 229.8L1272.8 218.2"/>
<path d="M1267.0 228.0L1278.6 239.6M1267.0 239.6L1278.6 228.0"/>
<path d="M1256.3 229.9L1267.9 241.5M1256.3 241.5L1267.9 229.9"/>
<path d="M1245.4 211.0L1257.0 222.6M1245.4 222.6L1257.0 211.0"/>
<path d="M1268.3 232.7L1279.9 244.3M1268.3 244.3L1279.9 232.7"/>
<path d="M1245.6 210.5L1257.2 222.1M1245.6 222.1L1257.2 210.5"/>
<path d="M1254.9 228.0L1266.5 239.6M1254.9 239.6L1266.5 228.0"/>
<path d="M1252.7 218.4L1264.3 230.0M1252.7 230.0L1264.3 218.4"/>
<path d="M1253.5 213.4L1265.1 225.0M1253.5 225.0L1265.1 213.4"/>
<path d="M1262.3 210.8L1273.9 222.4M1262.3 222.4L1273.9 210.8"/>
<path d="M1270.8 224.4L1282.4 236.0M1270.8 236.0L1282.4 224.4"/>
<path d="M1259.5 201.9L1271.1 213.5M1259.5 213.5L1271.1 201.9"/>
<path d="M1256.5 212.8L1268.1 224.4M1256.5 224.4L1268.1 212.8"/>
<path d="M1261.7 201.3L1273.3 212.9M1261.7 212.9L1273.3 201.3"/>
<path d="M1263.0 217.4L1274.6 229.0M1263.0 229.0L1274.6 217.4"/>
<path d="M1253.1 205.2L1264.7 216.8M1253.1 216.8L1264.7 205.2"/>
<path d="M1248.6 231.6L1260.2 243.2M1248.6 243.2L1260.2 231.6"/>
<path d="M1256.6 217.1L1268.2 228.7M1256.6 228.7L1268.2 217.1"/>
<path d="M1258.9 206.3L1270.5 217.9M1258.9 217.9L1270.5 206.3"/>
<path d="M1263.2 225.5L1274.8 237.1M1263.2 237.1L1274.8 225.5"/>
<path d="M1269.1 211.4L1280.7 223.0M1269.1 223.0L1280.7 211.4"/>
<path d="M1254.7 224.7L1266.3 236.3M1254.7 236.3L1266.3 224.7"/>
<path d="M1265.6 225.6L1277.2 237.2M1265.6 237.2L1277.2 225.6"/>
<path d="M1267.8 218.3L1279.4 229.9M1267.8 229.9L1279.4 218.3"/>
<path d="M1256.0 234.8L1267.6 246.4M1256.0 246.4L1267.6 234.8"/>
<path d="M1258.9 216.2L1270.5 227.8M1258.9 227.8L1270.5 216.2"/>
<path d="M1264.7 206.3L1276.3 217.9M1264.7 217.9L1276.3 206.3"/>
<path d="M1253.2 238.3L1264.8 249.9M1253.2 249.9L1264.8 238.3"/>
<path d="M1266.6 214.1L1278.2 225.7M1266.6 225.7L1278.2 214.1"/>
<path d="M1268.3 204.7L1279.9 216.3M1268.3 216.3L1279.9 204.7"/>
<path d="M1262.9 206.6L1274.5 218.2M1262.9 218.2L1274.5 206.6"/>
<path d="M1257.9 216.3L1269.5 227.9M1257.9 227.9L1269.5 216.3"/>
<path d="M1259.6 228.1L1271.2 239.7M1259.6 239.7L1271.2 228.1"/>
<path d="M1255.3 221.1L1266.9 232.7M1255.3 232.7L1266.9 221.1"/>
<path d="M1258.5 218.3L1270.1 229.9M1258.5 229.9L1270.1 218.3"/>
<path d="M1266.3 203.6L1277.9 215.2M1266.3 215.2L1277.9 203.6"/>
<path d="M1257.8 232.2L1269.4 243.8M1257.8 243.8L1269.4 232.2"/>
<path d="M1255.9 216.2L1267.5 227.8M1255.9 227.8L1267.5 216.2"/>
<path d="M1261.9 207.0L1273.5 218.6M1261.9 218.6L1273.5 207.0"/>
<path d="M1256.4 223.3L1268.0 234.9M1256.4 234.9L1268.0 223.3"/>
<path d="M1259.3 225.5L1270.9 237.1M1259.3 237.1L1270.9 225.5"/>
<path d="M1269.6 204.6L1281.2 216.2M1269.6 216.2L1281.2 204.6"/>
<path d="M1262.1 217.7L1273.7 229.3M1262.1 229.3L1273.7 217.7"/>
<path d="M1260.9 214.2L1272.5 225.8M1260.9 225.8L1272.5 214.2"/>
<path d="M1253.5 237.4L1265.1 249.0M1253.5 249.0L1265.1 237.4"/>
<path d="M1271.3 183.5L1282.9 195.1M1271.3 195.1L1282.9 183.5"/>
<path d="M1273.0 203.8L1284.6 215.4M1273.0 215.4L1284.6 203.8"/>
<path d="M1271.9 183.3L1283.5 194.9M1271.9 194.9L1283.5 183.3"/>
<path d="M1293.7 167.7L1305.3 179.3M1293.7 179.3L1305.3 167.7"/>
<path d="M1290.1 189.5L1301.7 201.1M1290.1 201.1L1301.7 189.5"/>
<path d="M1273.7 203.9L1285.3 215.5M1273.7 215.5L1285.3 203.9"/>
<path d="M1291.0 175.1L1302.6 186.7M1291.0 186.7L1302.6 175.1"/>
<path d="M1283.7 170.2L1295.3 181.8M1283.7 181.8L1295.3 170.2"/>
<path d="M1273.7 195.4L1285.3 207.0M1273.7 207.0L1285.3 195.4"/>
<path d="M1263.0 195.0L1274.6 206.6M1263.0 206.6L1274.6 195.0"/>
<path d="M1264.4 199.2L1276.0 210.8M1264.4 210.8L1276.0 199.2"/>
<path d="M1286.6 173.6L1298.2 185.2M1286.6 185.2L1298.2 173.6"/>
<path d="M1285.5 179.3L1297.1 190.9M1285.5 190.9L1297.1 179.3"/>
<path d="M1283.9 177.5L1295.5 189.1M1283.9 189.1L1295.5 177.5"/>
<path d="M1264.6 200.7L1276.2 212.3M1264.6 212.3L1276.2 200.7"/>
<path d="M1272.3 197.4L1283.9 209.0M1272.3 209.0L1283.9 197.4"/>
<path d="M1278.0 158.8L1289.6 170.4M1278.0 170.4L1289.6 158.8"/>
<path d="M1268.6 172.2L1280.2 183.8M1268.6 183.8L1280.2 172.2"/>
<path d="M1287.1 202.1L1298.7 213.7M1287.1 213.7L1298.7 202.1"/>
<path d="M1279.4 205.8L1291.0 217.4M1279.4 217.4L1291.0 205.8"/>
<path d="M1286.3 169.2L1297.9 180.8M1286.3 180.8L1297.9 169.2"/>
<path d="M1269.5 195.6L1281.1 207.2M1269.5 207.2L1281.1 195.6"/>
<path d="M1260.9 176.6L1272.5 188.2M1260.9 188.2L1272.5 176.6"/>
<path d="M1255.5 194.5L1267.1 206.1M1255.5 206.1L1267.1 194.5"/>
<path d="M1270.0 162.3L1281.6 173.9M1270.0 173.9L1281.6 162.3"/>
<path d="M1277.0 190.8L1288.6 202.4M1277.0 202.4L1288.6 190.8"/>
<path d="M1275.9 177.5L1287.5 189.1M1275.9 189.1L1287.5 177.5"/>
<path d="M1293.7 189.2L1305.3 200.8M1293.7 200.8L1305.3 189.2"/>
<path d="M1292.3 178.5L1303.9 190.1M1292.3 190.1L1303.9 178.5"/>
<path d="M1278.6 191.8L1290.2 203.4M1278.6 203.4L1290.2 191.8"/>
<path d="M1278.9 187.3L1290.5 198.9M1278.9 198.9L1290.5 187.3"/>
<path d="M1275.1 165.4L1286.7 177.0M1275.1 177.0L1286.7 165.4"/>
<path d="M1281.0 193.6L1292.6 205.2M1281.0 205.2L1292.6 193.6"/>
<path d="M1286.1 164.9L1297.7 176.5M1286.1 176.5L1297.7 164.9"/>
<path d="M1274.4 187.7L1286.0 199.3M1274.4 199.3L1286.0 187.7"/>
<path d="M1283.3 173.2L1294.9 184.8M1283.3 184.8L1294.9 173.2"/>
<path d="M1287.5 170.7L1299.1 182.3M1287.5 182.3L1299.1 170.7"/>
<path d="M1283.9 169.7L1295.5 181.3M1283.9 181.3L1295.5 169.7"/>
<path d="M1278.2 176.7L1289.8 188.3M1278.2 188.3L1289.8 176.7"/>
<path d="M1276.3 181.9L1287.9 193.5M1276.3 193.5L1287.9 181.9"/>
<path d="M1280.5 187.2L1292.1 198.8M1280.5 198.8L1292.1 187.2"/>
<path d="M1270.4 198.7L1282.0 210.3M1270.4 210.3L1282.0 198.7"/>
<path d="M1282.6 181.5L1294.2 193.1M1282.6 193.1L1294.2 181.5"/>
<path d="M1269.7 191.9L1281.3 203.5M1269.7 203.5L1281.3 191.9"/>
<path d="M1270.6 194.7L1282.2 206.3M1270.6 206.3L1282.2 194.7"/>
<path d="M1286.4 168.6L1298.0 180.2M1286.4 180.2L1298.0 168.6"/>
<path d="M1268.0 198.0L1279.6 209.6M1268.0 209.6L1279.6 198.0"/>
<path d="M1280.3 187.2L1291.9 198.8M1280.3 198.8L1291.9 187.2"/>
<path d="M1283.7 171.7L1295.3 183.3M1283.7 183.3L1295.3 171.7"/>
<path d="M1268.8 203.3L1280.4 214.9M1268.8 214.9L1280.4 203.3"/>
<path d="M1267.5 195.6L1279.1 207.2M1267.5 207.2L1279.1 195.6"/>
<path d="M1273.2 192.0L1284.8 203.6M1273.2 203.6L1284.8 192.0"/>
<path d="M1286.0 173.3L1297.6 184.9M1286.0 184.9L1297.6 173.3"/>
<path d="M1269.9 182.1L1281.5 193.7M1269.9 193.7L1281.5 182.1"/>
<path d="M1287.1 166.3L1298.7 177.9M1287.1 177.9L1298.7 166.3"/>
<path d="M1282.2 170.8L1293.8 182.4M1282.2 182.4L1293.8 170.8"/>
<path d="M1283.3 183.2L1294.9 194.8M1283.3 194.8L1294.9 183.2"/>
<path d="M1278.0 201.9L1289.6 213.5M1278.0 213.5L1289.6 201.9"/>
<path d="M1276.6 186.4L1288.2 198.0M1276.6 198.0L1288.2 186.4"/>
<path d="M1280.2 167.8L1291.8 179.4M1280.2 179.4L1291.8 167.8"/>
<path d="M1270.7 197.2L1282.3 208.8M1270.7 208.8L1282.3 197.2"/>
<path d="M1282.5 171.0L1294.1 182.6M1282.5 182.6L1294.1 171.0"/>
<path d="M1276.7 158.6L1288.3 170.2M1276.7 170.2L1288.3 158.6"/>
<path d="M1278.7 185.3L1290.3 196.9M1278.7 196.9L1290.3 185.3"/>
<path d="M1303.3 133.0L1314.9 144.6M1303.3 144.6L1314.9 133.0"/>
<path d="M1298.4 145.3L1310.0 156.9M1298.4 156.9L1310.0 145.3"/>
<path d="M1292.1 127.3L1303.7 138.9M1292.1 138.9L1303.7 127.3"/>
<path d="M1309.5 150.0L1321.1 161.6M1309.5 161.6L1321.1 150.0"/>
<path d="M1305.4 121.7L1317.0 133.3M1305.4 133.3L1317.0 121.7"/>
<path d="M1324.1 146.1L1335.7 157.7M1324.1 157.7L1335.7 146.1"/>
<path d="M1294.8 124.9L1306.4 136.5M1294.8 136.5L1306.4 124.9"/>
<path d="M1291.4 155.6L1303.0 167.2M1291.4 167.2L1303.0 155.6"/>
<path d="M1309.2 146.1L1320.8 157.7M1309.2 157.7L1320.8 146.1"/>
<path d="M1324.8 142.0L1336.4 153.6M1324.8 153.6L1336.4 142.0"/>
<path d="M1299.4 156.0L1311.0 167.6M1299.4 167.6L1311.0 156.0"/>
<path d="M1304.0 125.5L1315.6 137.1M1304.0 137.1L1315.6 125.5"/>
<path d="M1281.3 158.3L1292.9 169.9M1281.3 169.9L1292.9 158.3"/>
<path d="M1299.0 117.9L1310.6 129.5M1299.0 129.5L1310.6 117.9"/>
<path d="M1291.9 165.7L1303.5 177.3M1291.9 177.3L1303.5 165.7"/>
<path d="M1299.3 149.0L1310.9 160.6M1299.3 160.6L1310.9 149.0"/>
<path d="M1298.6 163.7L1310.2 175.3M1298.6 175.3L1310.2 163.7"/>
<path d="M1292.5 150.4L1304.1 162.0M1292.5 162.0L1304.1 150.4"/>
<path d="M1294.1 144.7L1305.7 156.3M1294.1 156.3L1305.7 144.7"/>
<path d="M1309.4 127.7L1321.0 139.3M1309.4 139.3L1321.0 127.7"/>
<path d="M1311.0 126.9L1322.6 138.5M1311.0 138.5L1322.6 126.9"/>
<path d="M1288.2 122.0L1299.8 133.6M1288.2 133.6L1299.8 122.0"/>
<path d="M1305.8 143.3L1317.4 154.9M1305.8 154.9L1317.4 143.3"/>
<path d="M1295.5 163.2L1307.1 174.8M1295.5 174.8L1307.1 163.2"/>
<path d="M1309.3 132.2L1320.9 143.8M1309.3 143.8L1320.9 132.2"/>
<path d="M1311.0 133.7L1322.6 145.3M1311.0 145.3L1322.6 133.7"/>
<path d="M1288.2 163.5L1299.8 175.1M1288.2 175.1L1299.8 163.5"/>
<path d="M1314.4 131.7L1326.0 143.3M1314.4 143.3L1326.0 131.7"/>
<path d="M1301.8 137.2L1313.4 148.8M1301.8 148.8L1313.4 137.2"/>
<path d="M1299.9 148.6L1311.5 160.2M1299.9 160.2L1311.5 148.6"/>
<path d="M1323.9 150.2L1335.5 161.8M1323.9 161.8L1335.5 150.2"/>
<path d="M1286.5 163.2L1298.1 174.8M1286.5 174.8L1298.1 163.2"/>
<path d="M1298.8 159.6L1310.4 171.2M1298.8 171.2L1310.4 159.6"/>
<path d="M1311.7 146.5L1323.3 158.1M1311.7 158.1L1323.3 146.5"/>
<path d="M1329.5 140.9L1341.1 152.5M1329.5 152.5L1341.1 140.9"/>
<path d="M1301.5 137.3L1313.1 148.9M1301.5 148.9L1313.1 137.3"/>
<path d="M1303.5 165.9L1315.1 177.5M1303.5 177.5L1315.1 165.9"/>
<path d="M1306.9 135.1L1318.5 146.7M1306.9 146.7L1318.5 135.1"/>
<path d="M1292.9 159.4L1304.5 171.0M1292.9 171.0L1304.5 159.4"/>
<path d="M1300.4 157.5L1312.0 169.1M1300.4 169.1L1312.0 157.5"/>
<path d="M1306.9 143.3L1318.5 154.9M1306.9 154.9L1318.5 143.3"/>
<path d="M1321.6 147.9L1333.2 159.5M1321.6 159.5L1333.2 147.9"/>
<path d="M1290.4 151.6L1302.0 163.2M1290.4 163.2L1302.0 151.6"/>
<path d="M1295.8 145.1L1307.4 156.7M1295.8 156.7L1307.4 145.1"/>
<path d="M1306.6 124.8L1318.2 136.4M1306.6 136.4L1318.2 124.8"/>
<path d="M1305.6 124.9L1317.2 136.5M1305.6 136.5L1317.2 124.9"/>
<path d="M1303.5 145.6L1315.1 157.2M1303.5 157.2L1315.1 145.6"/>
<path d="M1291.5 154.8L1303.1 166.4M1291.5 166.4L1303.1 154.8"/>
<path d="M1300.8 140.8L1312.4 152.4M1300.8 152.4L1312.4 140.8"/>
<path d="M1292.6 159.0L1304.2 170.6M1292.6 170.6L1304.2 159.0"/>
<path d="M1300.8 151.5L1312.4 163.1M1300.8 163.1L1312.4 151.5"/>
<path d="M1295.1 150.9L1306.7 162.5M1295.1 162.5L1306.7 150.9"/>
<path d="M1300.6 148.7L1312.2 160.3M1300.6 160.3L1312.2 148.7"/>
<path d="M1287.3 166.0L1298.9 177.6M1287.3 177.6L1298.9 166.0"/>
<path d="M1294.6 152.0L1306.2 163.6M1294.6 163.6L1306.2 152.0"/>
<path d="M1311.5 128.5L1323.1 140.1M1311.5 140.1L1323.1 128.5"/>
<path d="M1284.8 162.7L1296.4 174.3M1284.8 174.3L1296.4 162.7"/>
<path d="M1285.9 156.7L1297.5 168.3M1285.9 168.3L1297.5 156.7"/>
<path d="M1309.2 126.8L1320.8 138.4M1309.2 138.4L1320.8 126.8"/>
<path d="M1311.0 138.2L1322.6 149.8M1311.0 149.8L1322.6 138.2"/>
<path d="M1315.2 140.5L1326.8 152.1M1315.2 152.1L1326.8 140.5"/>
<path d="M1299.5 135.1L1311.1 146.7M1299.5 146.7L1311.1 135.1"/>
<path d="M1306.6 134.2L1318.2 145.8M1306.6 145.8L1318.2 134.2"/>
<path d="M1303.3 135.6L1314.9 147.2M1303.3 147.2L1314.9 135.6"/>
<path d="M1309.5 144.8L1321.1 156.4M1309.5 156.4L1321.1 144.8"/>
<path d="M1292.4 165.1L1304.0 176.7M1292.4 176.7L1304.0 165.1"/>
<path d="M1302.7 148.8L1314.3 160.4M1302.7 160.4L1314.3 148.8"/>
<path d="M1308.3 145.3L1319.9 156.9M1308.3 156.9L1319.9 145.3"/>
<path d="M1286.2 147.7L1297.8 159.3M1286.2 159.3L1297.8 147.7"/>
<path d="M1309.0 129.1L1320.6 140.7M1309.0 140.7L1320.6 129.1"/>
<path d="M1296.7 163.0L1308.3 174.6M1296.7 174.6L1308.3 163.0"/>
<path d="M1303.1 149.8L1314.7 161.4M1303.1 161.4L1314.7 149.8"/>
<path d="M1288.3 149.6L1299.9 161.2M1288.3 161.2L1299.9 149.6"/>
<path d="M1304.4 130.1L1316.0 141.7M1304.4 141.7L1316.0 130.1"/>
<path d="M1312.4 135.4L1324.0 147.0M1312.4 147.0L1324.0 135.4"/>
<path d="M1298.1 143.9L1309.7 155.5M1298.1 155.5L1309.7 143.9"/>
<path d="M1318.9 108.4L1330.5 120.0M1318.9 120.0L1330.5 108.4"/>
<path d="M1327.2 99.0L1338.8 110.6M1327.2 110.6L1338.8 99.0"/>
<path d="M1323.7 93.5L1335.3 105.1M1323.7 105.1L1335.3 93.5"/>
<path d="M1332.5 109.8L1344.1 121.4M1332.5 121.4L1344.1 109.8"/>
<path d="M1324.6 110.2L1336.2 121.8M1324.6 121.8L1336.2 110.2"/>
<path d="M1313.3 119.5L1324.9 131.1M1313.3 131.1L1324.9 119.5"/>
<path d="M1353.4 110.3L1365.0 121.9M1353.4 121.9L1365.0 110.3"/>
<path d="M1339.6 103.3L1351.2 114.9M1339.6 114.9L1351.2 103.3"/>
<path d="M1333.0 97.2L1344.6 108.8M1333.0 108.8L1344.6 97.2"/>
<path d="M1317.2 116.9L1328.8 128.5M1317.2 128.5L1328.8 116.9"/>
<path d="M1325.6 98.2L1337.2 109.8M1325.6 109.8L1337.2 98.2"/>
<path d="M1313.4 122.3L1325.0 133.9M1313.4 133.9L1325.0 122.3"/>
<path d="M1334.3 100.0L1345.9 111.6M1334.3 111.6L1345.9 100.0"/>
<path d="M1319.8 120.3L1331.4 131.9M1319.8 131.9L1331.4 120.3"/>
<path d="M1315.6 113.3L1327.2 124.9M1315.6 124.9L1327.2 113.3"/>
<path d="M1308.2 101.3L1319.8 112.9M1308.2 112.9L1319.8 101.3"/>
<path d="M1313.7 115.3L1325.3 126.9M1313.7 126.9L1325.3 115.3"/>
<path d="M1317.7 118.4L1329.3 130.0M1317.7 130.0L1329.3 118.4"/>
<path d="M1333.3 135.6L1344.9 147.2M1333.3 147.2L1344.9 135.6"/>
<path d="M1311.2 94.4L1322.8 106.0M1311.2 106.0L1322.8 94.4"/>
<path d="M1314.2 127.5L1325.8 139.1M1314.2 139.1L1325.8 127.5"/>
<path d="M1322.0 105.3L1333.6 116.9M1322.0 116.9L1333.6 105.3"/>
<path d="M1306.6 116.5L1318.2 128.1M1306.6 128.1L1318.2 116.5"/>
<path d="M1338.1 105.1L1349.7 116.7M1338.1 116.7L1349.7 105.1"/>
<path d="M1320.9 127.2L1332.5 138.8M1320.9 138.8L1332.5 127.2"/>
<path d="M1319.3 125.6L1330.9 137.2M1319.3 137.2L1330.9 125.6"/>
<path d="M1336.3 115.7L1347.9 127.3M1336.3 127.3L1347.9 115.7"/>
<path d="M1313.2 92.5L1324.8 104.1M1313.2 104.1L1324.8 92.5"/>
<path d="M1341.9 123.1L1353.5 134.7M1341.9 134.7L1353.5 123.1"/>
<path d="M1302.7 102.9L1314.3 114.5M1302.7 114.5L1314.3 102.9"/>
<path d="M1304.0 114.5L1315.6 126.1M1304.0 126.1L1315.6 114.5"/>
<path d="M1312.5 118.0L1324.1 129.6M1312.5 129.6L1324.1 118.0"/>
<path d="M1330.8 102.0L1342.4 113.6M1330.8 113.6L1342.4 102.0"/>
<path d="M1325.9 107.0L1337.5 118.6M1325.9 118.6L1337.5 107.0"/>
<path d="M1310.8 107.6L1322.4 119.2M1310.8 119.2L1322.4 107.6"/>
<path d="M1318.1 120.0L1329.7 131.6M1318.1 131.6L1329.7 120.0"/>
<path d="M1339.6 112.2L1351.2 123.8M1339.6 123.8L1351.2 112.2"/>
<path d="M1324.6 115.8L1336.2 127.4M1324.6 127.4L1336.2 115.8"/>
<path d="M1333.4 98.8L1345.0 110.4M1333.4 110.4L1345.0 98.8"/>
<path d="M1336.0 109.2L1347.6 120.8M1336.0 120.8L1347.6 109.2"/>
<path d="M1328.6 106.6L1340.2 118.2M1328.6 118.2L1340.2 106.6"/>
<path d="M1319.9 120.2L1331.5 131.8M1319.9 131.8L1331.5 120.2"/>
<path d="M1302.2 118.5L1313.8 130.1M1302.2 130.1L1313.8 118.5"/>
<path d="M1331.0 111.5L1342.6 123.1M1331.0 123.1L1342.6 111.5"/>
<path d="M1345.5 110.1L1357.1 121.7M1345.5 121.7L1357.1 110.1"/>
<path d="M1337.5 99.1L1349.1 110.7M1337.5 110.7L1349.1 99.1"/>
<path d="M1323.3 118.7L1334.9 130.3M1323.3 130.3L1334.9 118.7"/>
<path d="M1335.2 103.0L1346.8 114.6M1335.2 114.6L1346.8 103.0"/>
<path d="M1337.4 109.6L1349.0 121.2M1337.4 121.2L1349.0 109.6"/>
<path d="M1323.3 105.9L1334.9 117.5M1323.3 117.5L1334.9 105.9"/>
<path d="M1323.4 114.4L1335.0 126.0M1323.4 126.0L1335.0 114.4"/>
<path d="M1326.7 121.3L1338.3 132.9M1326.7 132.9L1338.3 121.3"/>
<path d="M1323.8 114.9L1335.4 126.5M1323.8 126.5L1335.4 114.9"/>
<path d="M1334.5 110.8L1346.1 122.4M1334.5 122.4L1346.1 110.8"/>
<path d="M1337.1 105.1L1348.7 116.7M1337.1 116.7L1348.7 105.1"/>
<path d="M1338.1 100.9L1349.7 112.5M1338.1 112.5L1349.7 100.9"/>
<path d="M1326.8 110.7L1338.4 122.3M1326.8 122.3L1338.4 110.7"/>
<path d="M1337.7 104.9L1349.3 116.5M1337.7 116.5L1349.3 104.9"/>
<path d="M1341.4 110.1L1353.0 121.7M1341.4 121.7L1353.0 110.1"/>
<path d="M1317.3 129.7L1328.9 141.3M1317.3 141.3L1328.9 129.7"/>
<path d="M1324.7 96.2L1336.3 107.8M1324.7 107.8L1336.3 96.2"/>
<path d="M1315.0 117.3L1326.6 128.9M1315.0 128.9L1326.6 117.3"/>
<path d="M1316.2 111.3L1327.8 122.9M1316.2 122.9L1327.8 111.3"/>
<path d="M1318.6 121.2L1330.2 132.8M1318.6 132.8L1330.2 121.2"/>
<path d="M1317.8 120.7L1329.4 132.3M1317.8 132.3L1329.4 120.7"/>
<path d="M1329.5 109.8L1341.1 121.4M1329.5 121.4L1341.1 109.8"/>
<path d="M1321.6 106.0L1333.2 117.6M1321.6 117.6L1333.2 106.0"/>
<path d="M1312.9 123.2L1324.5 134.8M1312.9 134.8L1324.5 123.2"/>
<path d="M1322.2 118.8L1333.8 130.4M1322.2 130.4L1333.8 118.8"/>
<path d="M1368.4 73.7L1380.0 85.3M1368.4 85.3L1380.0 73.7"/>
<path d="M1336.6 88.5L1348.2 100.1M1336.6 100.1L1348.2 88.5"/>
<path d="M1333.5 79.4L1345.1 91.0M1333.5 91.0L1345.1 79.4"/>
<path d="M1361.9 79.1L1373.5 90.7M1361.9 90.7L1373.5 79.1"/>
<path d="M1367.5 72.4L1379.1 84.0M1367.5 84.0L1379.1 72.4"/>
<path d="M1357.2 90.4L1368.8 102.0M1357.2 102.0L1368.8 90.4"/>
<path d="M1371.6 97.9L1383.2 109.5M1371.6 109.5L1383.2 97.9"/>
<path d="M1335.6 75.1L1347.2 86.7M1335.6 86.7L1347.2 75.1"/>
<path d="M1352.8 95.2L1364.4 106.8M1352.8 106.8L1364.4 95.2"/>
<path d="M1353.4 116.8L1365.0 128.4M1353.4 128.4L1365.0 116.8"/>
<path d="M1352.5 101.3L1364.1 112.9M1352.5 112.9L1364.1 101.3"/>
<path d="M1345.3 92.4L1356.9 104.0M1345.3 104.0L1356.9 92.4"/>
<path d="M1375.7 85.0L1387.3 96.6M1375.7 96.6L1387.3 85.0"/>
<path d="M1355.0 94.7L1366.6 106.3M1355.0 106.3L1366.6 94.7"/>
<path d="M1368.1 80.3L1379.7 91.9M1368.1 91.9L1379.7 80.3"/>
<path d="M1360.7 94.2L1372.3 105.8M1360.7 105.8L1372.3 94.2"/>
<path d="M1358.3 71.7L1369.9 83.3M1358.3 83.3L1369.9 71.7"/>
<path d="M1353.4 115.9L1365.0 127.5M1353.4 127.5L1365.0 115.9"/>
<path d="M1362.1 93.1L1373.7 104.7M1362.1 104.7L1373.7 93.1"/>
<path d="M1366.5 102.4L1378.1 114.0M1366.5 114.0L1378.1 102.4"/>
<path d="M1343.7 92.8L1355.3 104.4M1343.7 104.4L1355.3 92.8"/>
<path d="M1368.1 95.2L1379.7 106.8M1368.1 106.8L1379.7 95.2"/>
<path d="M1362.5 77.2L1374.1 88.8M1362.5 88.8L1374.1 77.2"/>
<path d="M1361.8 67.8L1373.4 79.4M1361.8 79.4L1373.4 67.8"/>
<path d="M1353.6 75.6L1365.2 87.2M1353.6 87.2L1365.2 75.6"/>
<path d="M1365.5 86.7L1377.1 98.3M1365.5 98.3L1377.1 86.7"/>
<path d="M1346.9 86.2L1358.5 97.8M1346.9 97.8L1358.5 86.2"/>
<path d="M1338.1 93.8L1349.7 105.4M1338.1 105.4L1349.7 93.8"/>
<path d="M1369.8 88.8L1381.4 100.4M1369.8 100.4L1381.4 88.8"/>
<path d="M1341.3 89.6L1352.9 101.2M1341.3 101.2L1352.9 89.6"/>
<path d="M1356.8 83.8L1368.4 95.4M1356.8 95.4L1368.4 83.8"/>
<path d="M1367.6 83.7L1379.2 95.3M1367.6 95.3L1379.2 83.7"/>
<path d="M1347.9 85.9L1359.5 97.5M1347.9 97.5L1359.5 85.9"/>
<path d="M1357.0 82.9L1368.6 94.5M1357.0 94.5L1368.6 82.9"/>
<path d="M1369.1 87.1L1380.7 98.7M1369.1 98.7L1380.7 87.1"/>
<path d="M1347.2 94.7L1358.8 106.3M1347.2 106.3L1358.8 94.7"/>
<path d="M1352.7 88.4L1364.3 100.0M1352.7 100.0L1364.3 88.4"/>
<path d="M1348.3 94.6L1359.9 106.2M1348.3 106.2L1359.9 94.6"/>
<path d="M1363.0 84.1L1374.6 95.7M1363.0 95.7L1374.6 84.1"/>
<path d="M1366.1 85.3L1377.7 96.9M1366.1 96.9L1377.7 85.3"/>
<path d="M1360.9 84.6L1372.5 96.2M1360.9 96.2L1372.5 84.6"/>
<path d="M1354.1 91.7L1365.7 103.3M1354.1 103.3L1365.7 91.7"/>
<path d="M1345.4 92.6L1357.0 104.2M1345.4 104.2L1357.0 92.6"/>
<path d="M1344.4 90.1L1356.0 101.7M1344.4 101.7L1356.0 90.1"/>
<path d="M1350.1 81.4L1361.7 93.0M1350.1 93.0L1361.7 81.4"/>
<path d="M1355.8 84.7L1367.4 96.3M1355.8 96.3L1367.4 84.7"/>
<path d="M1348.7 94.4L1360.3 106.0M1348.7 106.0L1360.3 94.4"/>
<path d="M1351.2 87.0L1362.8 98.6M1351.2 98.6L1362.8 87.0"/>
<path d="M1353.7 95.7L1365.3 107.3M1353.7 107.3L1365.3 95.7"/>
<path d="M1373.8 75.3L1385.4 86.9M1373.8 86.9L1385.4 75.3"/>
<path d="M1350.9 93.5L1362.5 105.1M1350.9 105.1L1362.5 93.5"/>
<path d="M1357.5 85.7L1369.1 97.3M1357.5 97.3L1369.1 85.7"/>
<path d="M1361.7 88.8L1373.3 100.4M1361.7 100.4L1373.3 88.8"/>
<path d="M1354.0 90.0L1365.6 101.6M1354.0 101.6L1365.6 90.0"/>
<path d="M1367.0 84.7L1378.6 96.3M1367.0 96.3L1378.6 84.7"/>
<path d="M1404.5 63.6L1416.1 75.2M1404.5 75.2L1416.1 63.6"/>
<path d="M1410.3 55.7L1421.9 67.3M1410.3 67.3L1421.9 55.7"/>
<path d="M1392.5 57.4L1404.1 69.0M1392.5 69.0L1404.1 57.4"/>
<path d="M1394.7 64.6L1406.3 76.2M1394.7 76.2L1406.3 64.6"/>
<path d="M1396.9 51.2L1408.5 62.8M1396.9 62.8L1408.5 51.2"/>
<path d="M1402.5 68.4L1414.1 80.0M1402.5 80.0L1414.1 68.4"/>
<path d="M1403.7 55.0L1415.3 66.6M1403.7 66.6L1415.3 55.0"/>
<path d="M1383.7 79.4L1395.3 91.0M1383.7 91.0L1395.3 79.4"/>
<path d="M1403.1 62.2L1414.7 73.8M1403.1 73.8L1414.7 62.2"/>
<path d="M1386.3 69.0L1397.9 80.6M1386.3 80.6L1397.9 69.0"/>
<path d="M1378.0 71.1L1389.6 82.7M1378.0 82.7L1389.6 71.1"/>
<path d="M1383.7 72.9L1395.3 84.5M1383.7 84.5L1395.3 72.9"/>
<path d="M1398.8 65.2L1410.4 76.8M1398.8 76.8L1410.4 65.2"/>
<path d="M1374.6 75.1L1386.2 86.7M1374.6 86.7L1386.2 75.1"/>
<path d="M1402.1 62.7L1413.7 74.3M1402.1 74.3L1413.7 62.7"/>
<path d="M1389.6 80.7L1401.2 92.3M1389.6 92.3L1401.2 80.7"/>
<path d="M1396.1 66.8L1407.7 78.4M1396.1 78.4L1407.7 66.8"/>
<path d="M1379.9 68.4L1391.5 80.0M1379.9 80.0L1391.5 68.4"/>
<path d="M1384.7 61.0L1396.3 72.6M1384.7 72.6L1396.3 61.0"/>
<path d="M1397.3 78.1L1408.9 89.7M1397.3 89.7L1408.9 78.1"/>
<path d="M1386.8 71.8L1398.4 83.4M1386.8 83.4L1398.4 71.8"/>
<path d="M1394.4 64.7L1406.0 76.3M1394.4 76.3L1406.0 64.7"/>
<path d="M1394.0 60.7L1405.6 72.3M1394.0 72.3L1405.6 60.7"/>
<path d="M1383.2 73.5L1394.8 85.1M1383.2 85.1L1394.8 73.5"/>
<path d="M1387.4 58.8L1399.0 70.4M1387.4 70.4L1399.0 58.8"/>
<path d="M1390.5 67.3L1402.1 78.9M1390.5 78.9L1402.1 67.3"/>
<path d="M1387.2 65.0L1398.8 76.6M1387.2 76.6L1398.8 65.0"/>
<path d="M1395.8 61.4L1407.4 73.0M1395.8 73.0L1407.4 61.4"/>
<path d="M1386.0 77.8L1397.6 89.4M1386.0 89.4L1397.6 77.8"/>
<path d="M1372.5 77.9L1384.1 89.5M1372.5 89.5L1384.1 77.9"/>
<path d="M1373.2 71.4L1384.8 83.0M1373.2 83.0L1384.8 71.4"/>
<path d="M1381.9 74.6L1393.5 86.2M1381.9 86.2L1393.5 74.6"/>
<path d="M1385.2 67.6L1396.8 79.2M1385.2 79.2L1396.8 67.6"/>
<path d="M1375.9 74.0L1387.5 85.6M1375.9 85.6L1387.5 74.0"/>
<path d="M1396.1 65.5L1407.7 77.1M1396.1 77.1L1407.7 65.5"/>
<path d="M1372.3 78.8L1383.9 90.4M1372.3 90.4L1383.9 78.8"/>
<path d="M1409.5 52.7L1421.1 64.3M1409.5 64.3L1421.1 52.7"/>
<path d="M1409.8 49.2L1421.4 60.8M1409.8 60.8L1421.4 49.2"/>
<path d="M1445.0 42.0L1456.6 53.6M1445.0 53.6L1456.6 42.0"/>
<path d="M1440.7 44.1L1452.3 55.7M1440.7 55.7L1452.3 44.1"/>
<path d="M1441.7 50.2L1453.3 61.8M1441.7 61.8L1453.3 50.2"/>
<path d="M1448.3 39.1L1459.9 50.7M1448.3 50.7L1459.9 39.1"/>
<path d="M1423.8 51.3L1435.4 62.9M1423.8 62.9L1435.4 51.3"/>
<path d="M1420.8 58.4L1432.4 70.0M1420.8 70.0L1432.4 58.4"/>
<path d="M1437.9 47.3L1449.5 58.9M1437.9 58.9L1449.5 47.3"/>
<path d="M1423.1 51.3L1434.7 62.9M1423.1 62.9L1434.7 51.3"/>
<path d="M1430.4 42.0L1442.0 53.6M1430.4 53.6L1442.0 42.0"/>
<path d="M1430.9 48.7L1442.5 60.3M1430.9 60.3L1442.5 48.7"/>
<path d="M1434.8 47.5L1446.4 59.1M1434.8 59.1L1446.4 47.5"/>
</g></g>
<rect x="447" y="498.5" width="263.79999999999995" height="137.70000000000005" rx="3.5" fill="#fff" stroke="#d4d4d4" stroke-width="1.3"/>
<circle cx="471.0" cy="514.2" r="6.7" fill="#0000ff" fill-opacity="0.5" stroke="#0000ff" stroke-opacity="0.5" stroke-width="1"/>
<g stroke="#ff0000" stroke-opacity="0.5" stroke-width="2" fill="none"><path d="M464.7 535.3L477.3 547.9M464.7 547.9L477.3 535.3"/></g>
<g stroke="#ff0000" stroke-opacity="0.5" stroke-width="2" fill="none"><path d="M464.7 561.7L477.3 574.3M464.7 574.3L477.3 561.7"/></g>
<g stroke="#ff0000" stroke-opacity="0.5" stroke-width="2" fill="none"><path d="M464.7 588.1L477.3 600.7M464.7 600.7L477.3 588.1"/></g>
<g stroke="#ff0000" stroke-opacity="0.5" stroke-width="2" fill="none"><path d="M464.7 614.5L477.3 627.1M464.7 627.1L477.3 614.5"/></g>
<text x="501.4" y="519.2" font-size="17.2" textLength="66.5" lengthAdjust="spacingAndGlyphs" fill="#262626" stroke="#262626" stroke-width="0.35">DBPISR</text>
<text x="501.4" y="545.6" font-size="17.2" textLength="75.0" lengthAdjust="spacingAndGlyphs" fill="#262626" stroke="#262626" stroke-width="0.35">BSRGAN</text>
<text x="501.4" y="572.0" font-size="17.2" textLength="112.5" lengthAdjust="spacingAndGlyphs" fill="#262626" stroke="#262626" stroke-width="0.35">RealESRGAN</text>
<text x="501.4" y="598.4" font-size="17.2" textLength="60.8" lengthAdjust="spacingAndGlyphs" fill="#262626" stroke="#262626" stroke-width="0.35">SwinIR</text>
<text x="501.4" y="624.8" font-size="17.2" textLength="114.2" lengthAdjust="spacingAndGlyphs" fill="#262626" stroke="#262626" stroke-width="0.35">SwinIR_large</text>
<rect x="1226.8" y="499.7" width="258.0" height="135.90000000000003" rx="3.5" fill="#fff" stroke="#d4d4d4" stroke-width="1.3"/>
<circle cx="1249.9" cy="515.6" r="6.7" fill="#0000ff" fill-opacity="0.5" stroke="#0000ff" stroke-opacity="0.5" stroke-width="1"/>
<g stroke="#ff0000" stroke-opacity="0.5" stroke-width="2" fill="none"><path d="M1243.6 536.7L1256.2 549.3M1243.6 549.3L1256.2 536.7"/></g>
<g stroke="#ff0000" stroke-opacity="0.5" stroke-width="2" fill="none"><path d="M1243.6 563.1L1256.2 575.7M1243.6 575.7L1256.2 563.1"/></g>
<g stroke="#ff0000" stroke-opacity="0.5" stroke-width="2" fill="none"><path d="M1243.6 589.5L1256.2 602.1M1243.6 602.1L1256.2 589.5"/></g>
<g stroke="#ff0000" stroke-opacity="0.5" stroke-width="2" fill="none"><path d="M1243.6 615.9L1256.2 628.5M1243.6 628.5L1256.2 615.9"/></g>
<text x="1280.3" y="520.6" font-size="17.2" textLength="64.8" lengthAdjust="spacingAndGlyphs" fill="#262626" stroke="#262626" stroke-width="0.35">DBPISR</text>
<text x="1280.3" y="547.0" font-size="17.2" textLength="73.9" lengthAdjust="spacingAndGlyphs" fill="#262626" stroke="#262626" stroke-width="0.35">BSRGAN</text>
<text x="1280.3" y="573.4" font-size="17.2" textLength="110.5" lengthAdjust="spacingAndGlyphs" fill="#262626" stroke="#262626" stroke-width="0.35">RealESRGAN</text>
<text x="1280.3" y="599.8" font-size="17.2" textLength="58.7" lengthAdjust="spacingAndGlyphs" fill="#262626" stroke="#262626" stroke-width="0.35">SwinIR</text>
<text x="1280.3" y="626.2" font-size="17.2" textLength="111.5" lengthAdjust="spacingAndGlyphs" fill="#262626" stroke="#262626" stroke-width="0.35">SwinIR_large</text>
<line x1="51.6" y1="4.4" x2="719.4" y2="4.4" stroke="#8c8c8c" stroke-width="2.4"/>
<line x1="51.6" y1="645.3" x2="719.4" y2="645.3" stroke="#8c8c8c" stroke-width="2.4"/>
<line x1="51.6" y1="3.4000000000000004" x2="51.6" y2="646.3" stroke="#262626" stroke-width="1.9"/>
<line x1="719.4" y1="3.4000000000000004" x2="719.4" y2="646.3" stroke="#262626" stroke-width="1.9"/>
<line x1="115.6" y1="645.3" x2="115.6" y2="651.9" stroke="#3a3a3a" stroke-width="1.3"/>
<text x="114.4" y="670.6" text-anchor="middle" font-size="19.5" textLength="39.5" lengthAdjust="spacingAndGlyphs" fill="#262626" stroke="#262626" stroke-width="0.35">22.5</text>
<line x1="205.5" y1="645.3" x2="205.5" y2="651.9" stroke="#3a3a3a" stroke-width="1.3"/>
<text x="204.3" y="670.6" text-anchor="middle" font-size="19.5" textLength="39.5" lengthAdjust="spacingAndGlyphs" fill="#262626" stroke="#262626" stroke-width="0.35">25.0</text>
<line x1="295.3" y1="645.3" x2="295.3" y2="651.9" stroke="#3a3a3a" stroke-width="1.3"/>
<text x="294.1" y="670.6" text-anchor="middle" font-size="19.5" textLength="39.5" lengthAdjust="spacingAndGlyphs" fill="#262626" stroke="#262626" stroke-width="0.35">27.5</text>
<line x1="385.2" y1="645.3" x2="385.2" y2="651.9" stroke="#3a3a3a" stroke-width="1.3"/>
<text x="384.0" y="670.6" text-anchor="middle" font-size="19.5" textLength="39.5" lengthAdjust="spacingAndGlyphs" fill="#262626" stroke="#262626" stroke-width="0.35">30.0</text>
<line x1="475.1" y1="645.3" x2="475.1" y2="651.9" stroke="#3a3a3a" stroke-width="1.3"/>
<text x="473.9" y="670.6" text-anchor="middle" font-size="19.5" textLength="39.5" lengthAdjust="spacingAndGlyphs" fill="#262626" stroke="#262626" stroke-width="0.35">32.5</text>
<line x1="565.0" y1="645.3" x2="565.0" y2="651.9" stroke="#3a3a3a" stroke-width="1.3"/>
<text x="563.8" y="670.6" text-anchor="middle" font-size="19.5" textLength="39.5" lengthAdjust="spacingAndGlyphs" fill="#262626" stroke="#262626" stroke-width="0.35">35.0</text>
<line x1="654.8" y1="645.3" x2="654.8" y2="651.9" stroke="#3a3a3a" stroke-width="1.3"/>
<text x="653.6" y="670.6" text-anchor="middle" font-size="19.5" textLength="39.5" lengthAdjust="spacingAndGlyphs" fill="#262626" stroke="#262626" stroke-width="0.35">37.5</text>
<line x1="44.6" y1="517.4" x2="51.6" y2="517.4" stroke="#262626" stroke-width="1.5"/>
<text x="37.2" y="524.7" text-anchor="end" font-size="17.8" textLength="25.8" lengthAdjust="spacingAndGlyphs" fill="#262626" stroke="#262626" stroke-width="0.35">0.6</text>
<line x1="44.6" y1="376.7" x2="51.6" y2="376.7" stroke="#262626" stroke-width="1.5"/>
<text x="37.2" y="384.0" text-anchor="end" font-size="17.8" textLength="25.8" lengthAdjust="spacingAndGlyphs" fill="#262626" stroke="#262626" stroke-width="0.35">0.7</text>
<line x1="44.6" y1="236.1" x2="51.6" y2="236.1" stroke="#262626" stroke-width="1.5"/>
<text x="37.2" y="243.4" text-anchor="end" font-size="17.8" textLength="25.8" lengthAdjust="spacingAndGlyphs" fill="#262626" stroke="#262626" stroke-width="0.35">0.8</text>
<line x1="44.6" y1="95.4" x2="51.6" y2="95.4" stroke="#262626" stroke-width="1.5"/>
<text x="37.2" y="102.7" text-anchor="end" font-size="17.8" textLength="25.8" lengthAdjust="spacingAndGlyphs" fill="#262626" stroke="#262626" stroke-width="0.35">0.9</text>
<line x1="836.7" y1="13.3" x2="1495.8" y2="13.3" stroke="#8c8c8c" stroke-width="2.4"/>
<line x1="836.7" y1="646.0" x2="1495.8" y2="646.0" stroke="#8c8c8c" stroke-width="2.4"/>
<line x1="836.7" y1="12.3" x2="836.7" y2="647.0" stroke="#262626" stroke-width="1.9"/>
<line x1="1495.8" y1="12.3" x2="1495.8" y2="647.0" stroke="#262626" stroke-width="1.9"/>
<line x1="894.5" y1="646.0" x2="894.5" y2="652.6" stroke="#3a3a3a" stroke-width="1.3"/>
<text x="894.2" y="671.3" text-anchor="middle" font-size="19.5" textLength="39.0" lengthAdjust="spacingAndGlyphs" fill="#262626" stroke="#262626" stroke-width="0.35">22.5</text>
<line x1="984.3" y1="646.0" x2="984.3" y2="652.6" stroke="#3a3a3a" stroke-width="1.3"/>
<text x="984.0" y="671.3" text-anchor="middle" font-size="19.5" textLength="39.0" lengthAdjust="spacingAndGlyphs" fill="#262626" stroke="#262626" stroke-width="0.35">25.0</text>
<line x1="1074.1" y1="646.0" x2="1074.1" y2="652.6" stroke="#3a3a3a" stroke-width="1.3"/>
<text x="1073.8" y="671.3" text-anchor="middle" font-size="19.5" textLength="39.0" lengthAdjust="spacingAndGlyphs" fill="#262626" stroke="#262626" stroke-width="0.35">27.5</text>
<line x1="1163.9" y1="646.0" x2="1163.9" y2="652.6" stroke="#3a3a3a" stroke-width="1.3"/>
<text x="1163.6" y="671.3" text-anchor="middle" font-size="19.5" textLength="39.0" lengthAdjust="spacingAndGlyphs" fill="#262626" stroke="#262626" stroke-width="0.35">30.0</text>
<line x1="1253.7" y1="646.0" x2="1253.7" y2="652.6" stroke="#3a3a3a" stroke-width="1.3"/>
<text x="1253.4" y="671.3" text-anchor="middle" font-size="19.5" textLength="39.0" lengthAdjust="spacingAndGlyphs" fill="#262626" stroke="#262626" stroke-width="0.35">32.5</text>
<line x1="1343.5" y1="646.0" x2="1343.5" y2="652.6" stroke="#3a3a3a" stroke-width="1.3"/>
<text x="1343.2" y="671.3" text-anchor="middle" font-size="19.5" textLength="39.0" lengthAdjust="spacingAndGlyphs" fill="#262626" stroke="#262626" stroke-width="0.35">35.0</text>
<line x1="1433.3" y1="646.0" x2="1433.3" y2="652.6" stroke="#3a3a3a" stroke-width="1.3"/>
<text x="1433.0" y="671.3" text-anchor="middle" font-size="19.5" textLength="39.0" lengthAdjust="spacingAndGlyphs" fill="#262626" stroke="#262626" stroke-width="0.35">37.5</text>
<line x1="829.7" y1="590.6" x2="836.7" y2="590.6" stroke="#262626" stroke-width="1.5"/>
<text x="823.0" y="597.9" text-anchor="end" font-size="17.8" textLength="25.8" lengthAdjust="spacingAndGlyphs" fill="#262626" stroke="#262626" stroke-width="0.35">0.5</text>
<line x1="829.7" y1="468.8" x2="836.7" y2="468.8" stroke="#262626" stroke-width="1.5"/>
<text x="823.0" y="476.1" text-anchor="end" font-size="17.8" textLength="25.8" lengthAdjust="spacingAndGlyphs" fill="#262626" stroke="#262626" stroke-width="0.35">0.6</text>
<line x1="829.7" y1="347.0" x2="836.7" y2="347.0" stroke="#262626" stroke-width="1.5"/>
<text x="823.0" y="354.3" text-anchor="end" font-size="17.8" textLength="25.8" lengthAdjust="spacingAndGlyphs" fill="#262626" stroke="#262626" stroke-width="0.35">0.7</text>
<line x1="829.7" y1="225.2" x2="836.7" y2="225.2" stroke="#262626" stroke-width="1.5"/>
<text x="823.0" y="232.5" text-anchor="end" font-size="17.8" textLength="25.8" lengthAdjust="spacingAndGlyphs" fill="#262626" stroke="#262626" stroke-width="0.35">0.8</text>
<line x1="829.7" y1="103.4" x2="836.7" y2="103.4" stroke="#262626" stroke-width="1.5"/>
<text x="823.0" y="110.7" text-anchor="end" font-size="17.8" textLength="25.8" lengthAdjust="spacingAndGlyphs" fill="#262626" stroke="#262626" stroke-width="0.35">0.9</text>
<text x="384.6" y="695.8" text-anchor="middle" font-size="18.6" textLength="90.5" lengthAdjust="spacingAndGlyphs" fill="#333" stroke="#333" stroke-width="0.35">PSNR (dB)</text>
<text x="1164.9" y="695.8" text-anchor="middle" font-size="18.6" textLength="90" lengthAdjust="spacingAndGlyphs" fill="#333" stroke="#333" stroke-width="0.35">PSNR (dB)</text>
<text transform="translate(15.6,298.7) rotate(-90)" text-anchor="middle" font-size="17" textLength="40.2" lengthAdjust="spacingAndGlyphs" fill="#333" stroke="#333" stroke-width="0.35">SSIM</text>
<text transform="translate(785.2,291.8) rotate(-90)" text-anchor="middle" font-size="17" textLength="39.4" lengthAdjust="spacingAndGlyphs" fill="#333" stroke="#333" stroke-width="0.35">SSIM</text>
<text x="378.9" y="755.5" text-anchor="middle" font-size="35.2" font-weight="bold" fill="#000">(a)</text>
<text x="1153.5" y="755.5" text-anchor="middle" font-size="35.2" font-weight="bold" fill="#000">(b)</text>
</g>
</svg>
</body></html>
